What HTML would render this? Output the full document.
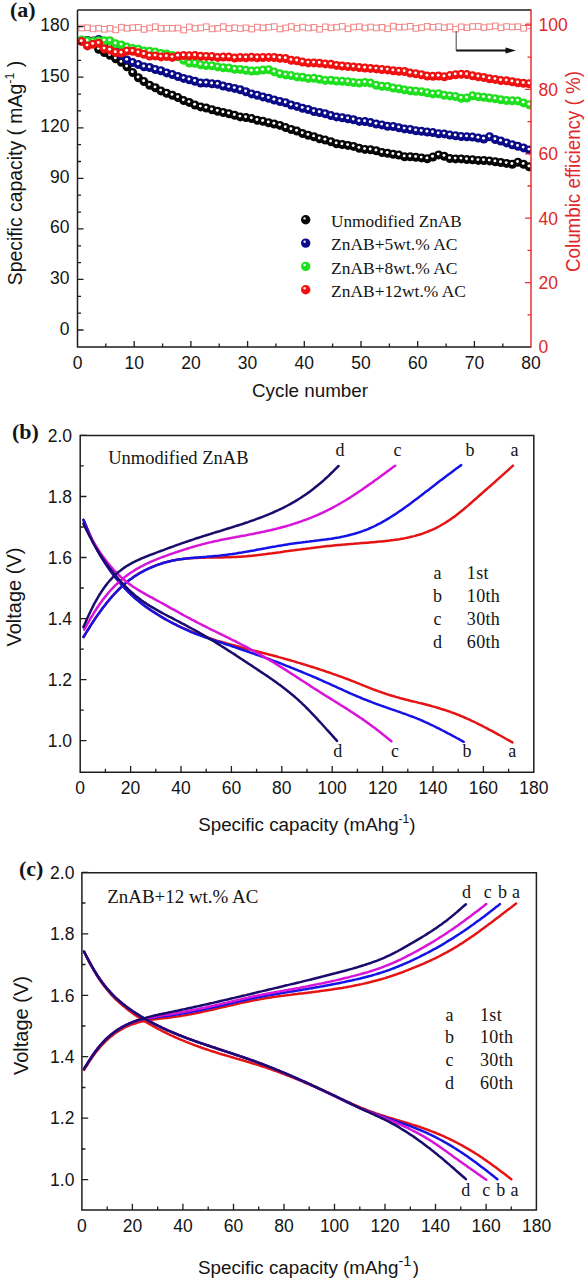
<!DOCTYPE html>
<html><head><meta charset="utf-8"><style>
html,body{margin:0;padding:0;background:#fff;}
svg{display:block;}
</style></head><body>
<svg width="585" height="1280" viewBox="0 0 585 1280">
<defs><clipPath id="clipA"><rect x="77.5" y="10" width="453.5" height="337"/></clipPath></defs>
<rect width="585" height="1280" fill="#fff"/>
<g clip-path="url(#clipA)" fill="none" stroke="#f07a7a" stroke-width="1" opacity="0.9"><rect x="78.9" y="25.2" width="5.6" height="5.6"/><rect x="84.6" y="24.9" width="5.6" height="5.6"/><rect x="90.2" y="26.1" width="5.6" height="5.6"/><rect x="95.9" y="25.4" width="5.6" height="5.6"/><rect x="101.6" y="26.5" width="5.6" height="5.6"/><rect x="107.2" y="25.5" width="5.6" height="5.6"/><rect x="112.9" y="27.1" width="5.6" height="5.6"/><rect x="118.6" y="24.4" width="5.6" height="5.6"/><rect x="124.2" y="25.5" width="5.6" height="5.6"/><rect x="129.9" y="24.9" width="5.6" height="5.6"/><rect x="135.6" y="24.6" width="5.6" height="5.6"/><rect x="141.2" y="26.6" width="5.6" height="5.6"/><rect x="146.9" y="25.2" width="5.6" height="5.6"/><rect x="152.6" y="23.9" width="5.6" height="5.6"/><rect x="158.2" y="25.7" width="5.6" height="5.6"/><rect x="163.9" y="25.4" width="5.6" height="5.6"/><rect x="169.6" y="25.5" width="5.6" height="5.6"/><rect x="175.2" y="25.2" width="5.6" height="5.6"/><rect x="180.9" y="27.3" width="5.6" height="5.6"/><rect x="186.5" y="24.1" width="5.6" height="5.6"/><rect x="192.2" y="25.6" width="5.6" height="5.6"/><rect x="197.9" y="25.1" width="5.6" height="5.6"/><rect x="203.5" y="23.9" width="5.6" height="5.6"/><rect x="209.2" y="26.1" width="5.6" height="5.6"/><rect x="214.9" y="25.5" width="5.6" height="5.6"/><rect x="220.5" y="23.8" width="5.6" height="5.6"/><rect x="226.2" y="25.7" width="5.6" height="5.6"/><rect x="231.9" y="25.0" width="5.6" height="5.6"/><rect x="237.5" y="25.7" width="5.6" height="5.6"/><rect x="243.2" y="25.0" width="5.6" height="5.6"/><rect x="248.9" y="26.3" width="5.6" height="5.6"/><rect x="254.5" y="24.3" width="5.6" height="5.6"/><rect x="260.2" y="25.1" width="5.6" height="5.6"/><rect x="265.9" y="24.4" width="5.6" height="5.6"/><rect x="271.5" y="23.8" width="5.6" height="5.6"/><rect x="277.2" y="26.2" width="5.6" height="5.6"/><rect x="282.9" y="25.1" width="5.6" height="5.6"/><rect x="288.5" y="23.7" width="5.6" height="5.6"/><rect x="294.2" y="25.5" width="5.6" height="5.6"/><rect x="299.8" y="24.3" width="5.6" height="5.6"/><rect x="305.5" y="25.2" width="5.6" height="5.6"/><rect x="311.2" y="24.6" width="5.6" height="5.6"/><rect x="316.8" y="26.5" width="5.6" height="5.6"/><rect x="322.5" y="24.0" width="5.6" height="5.6"/><rect x="328.2" y="25.0" width="5.6" height="5.6"/><rect x="333.8" y="24.4" width="5.6" height="5.6"/><rect x="339.5" y="23.6" width="5.6" height="5.6"/><rect x="345.2" y="26.0" width="5.6" height="5.6"/><rect x="350.8" y="24.3" width="5.6" height="5.6"/><rect x="356.5" y="23.9" width="5.6" height="5.6"/><rect x="362.2" y="25.2" width="5.6" height="5.6"/><rect x="367.8" y="24.2" width="5.6" height="5.6"/><rect x="373.5" y="25.2" width="5.6" height="5.6"/><rect x="379.2" y="24.5" width="5.6" height="5.6"/><rect x="384.8" y="26.0" width="5.6" height="5.6"/><rect x="390.5" y="23.3" width="5.6" height="5.6"/><rect x="396.2" y="24.4" width="5.6" height="5.6"/><rect x="401.8" y="24.2" width="5.6" height="5.6"/><rect x="407.5" y="23.5" width="5.6" height="5.6"/><rect x="413.1" y="25.6" width="5.6" height="5.6"/><rect x="418.8" y="24.8" width="5.6" height="5.6"/><rect x="424.5" y="23.6" width="5.6" height="5.6"/><rect x="430.1" y="24.5" width="5.6" height="5.6"/><rect x="435.8" y="23.8" width="5.6" height="5.6"/><rect x="441.5" y="24.9" width="5.6" height="5.6"/><rect x="447.1" y="24.0" width="5.6" height="5.6"/><rect x="452.8" y="26.3" width="5.6" height="5.6"/><rect x="458.5" y="24.0" width="5.6" height="5.6"/><rect x="464.1" y="24.9" width="5.6" height="5.6"/><rect x="469.8" y="23.7" width="5.6" height="5.6"/><rect x="475.5" y="23.6" width="5.6" height="5.6"/><rect x="481.1" y="24.8" width="5.6" height="5.6"/><rect x="486.8" y="24.0" width="5.6" height="5.6"/><rect x="492.5" y="23.1" width="5.6" height="5.6"/><rect x="498.1" y="25.0" width="5.6" height="5.6"/><rect x="503.8" y="23.7" width="5.6" height="5.6"/><rect x="509.5" y="24.2" width="5.6" height="5.6"/><rect x="515.1" y="23.9" width="5.6" height="5.6"/><rect x="520.8" y="25.5" width="5.6" height="5.6"/><rect x="526.5" y="23.2" width="5.6" height="5.6"/></g>
<g clip-path="url(#clipA)"><g fill="#050505"><circle cx="81.7" cy="40.5" r="4.5"/><circle cx="87.4" cy="40.4" r="4.5"/><circle cx="93.0" cy="41.1" r="4.5"/><circle cx="98.7" cy="49.2" r="4.5"/><circle cx="104.4" cy="52.6" r="4.5"/><circle cx="110.0" cy="55.3" r="4.5"/><circle cx="115.7" cy="58.7" r="4.5"/><circle cx="121.4" cy="62.2" r="4.5"/><circle cx="127.0" cy="66.8" r="4.5"/><circle cx="132.7" cy="72.6" r="4.5"/><circle cx="138.4" cy="77.8" r="4.5"/><circle cx="144.0" cy="81.6" r="4.5"/><circle cx="149.7" cy="85.2" r="4.5"/><circle cx="155.4" cy="87.7" r="4.5"/><circle cx="161.0" cy="90.9" r="4.5"/><circle cx="166.7" cy="93.3" r="4.5"/><circle cx="172.4" cy="95.2" r="4.5"/><circle cx="178.0" cy="97.6" r="4.5"/><circle cx="183.7" cy="100.6" r="4.5"/><circle cx="189.3" cy="102.4" r="4.5"/><circle cx="195.0" cy="105.0" r="4.5"/><circle cx="200.7" cy="106.9" r="4.5"/><circle cx="206.3" cy="108.0" r="4.5"/><circle cx="212.0" cy="109.8" r="4.5"/><circle cx="217.7" cy="111.2" r="4.5"/><circle cx="223.3" cy="112.5" r="4.5"/><circle cx="229.0" cy="113.8" r="4.5"/><circle cx="234.7" cy="115.3" r="4.5"/><circle cx="240.3" cy="116.9" r="4.5"/><circle cx="246.0" cy="117.6" r="4.5"/><circle cx="251.7" cy="118.6" r="4.5"/><circle cx="257.3" cy="120.3" r="4.5"/><circle cx="263.0" cy="121.3" r="4.5"/><circle cx="268.7" cy="122.7" r="4.5"/><circle cx="274.3" cy="124.0" r="4.5"/><circle cx="280.0" cy="125.4" r="4.5"/><circle cx="285.7" cy="127.6" r="4.5"/><circle cx="291.3" cy="129.5" r="4.5"/><circle cx="297.0" cy="131.1" r="4.5"/><circle cx="302.6" cy="133.5" r="4.5"/><circle cx="308.3" cy="135.2" r="4.5"/><circle cx="314.0" cy="136.7" r="4.5"/><circle cx="319.6" cy="138.8" r="4.5"/><circle cx="325.3" cy="140.1" r="4.5"/><circle cx="331.0" cy="141.8" r="4.5"/><circle cx="336.6" cy="143.7" r="4.5"/><circle cx="342.3" cy="144.5" r="4.5"/><circle cx="348.0" cy="145.4" r="4.5"/><circle cx="353.6" cy="146.4" r="4.5"/><circle cx="359.3" cy="148.2" r="4.5"/><circle cx="365.0" cy="149.4" r="4.5"/><circle cx="370.6" cy="149.8" r="4.5"/><circle cx="376.3" cy="150.8" r="4.5"/><circle cx="382.0" cy="152.5" r="4.5"/><circle cx="387.6" cy="153.3" r="4.5"/><circle cx="393.3" cy="154.2" r="4.5"/><circle cx="399.0" cy="155.1" r="4.5"/><circle cx="404.6" cy="156.7" r="4.5"/><circle cx="410.3" cy="156.8" r="4.5"/><circle cx="415.9" cy="157.2" r="4.5"/><circle cx="421.6" cy="157.9" r="4.5"/><circle cx="427.3" cy="158.7" r="4.5"/><circle cx="432.9" cy="157.0" r="4.5"/><circle cx="438.6" cy="154.9" r="4.5"/><circle cx="444.3" cy="156.2" r="4.5"/><circle cx="449.9" cy="158.5" r="4.5"/><circle cx="455.6" cy="158.9" r="4.5"/><circle cx="461.3" cy="158.9" r="4.5"/><circle cx="466.9" cy="159.5" r="4.5"/><circle cx="472.6" cy="159.8" r="4.5"/><circle cx="478.3" cy="160.4" r="4.5"/><circle cx="483.9" cy="160.5" r="4.5"/><circle cx="489.6" cy="160.9" r="4.5"/><circle cx="495.3" cy="161.7" r="4.5"/><circle cx="500.9" cy="162.5" r="4.5"/><circle cx="506.6" cy="163.4" r="4.5"/><circle cx="512.3" cy="164.3" r="4.5"/><circle cx="517.9" cy="162.3" r="4.5"/><circle cx="523.6" cy="164.2" r="4.5"/><circle cx="529.2" cy="166.8" r="4.5"/></g><g fill="#fff"><circle cx="81.3" cy="39.7" r="1.45"/><circle cx="87.0" cy="39.6" r="1.45"/><circle cx="92.6" cy="40.3" r="1.45"/><circle cx="98.3" cy="48.4" r="1.45"/><circle cx="104.0" cy="51.8" r="1.45"/><circle cx="109.6" cy="54.5" r="1.45"/><circle cx="115.3" cy="57.9" r="1.45"/><circle cx="121.0" cy="61.4" r="1.45"/><circle cx="126.6" cy="66.0" r="1.45"/><circle cx="132.3" cy="71.8" r="1.45"/><circle cx="138.0" cy="77.0" r="1.45"/><circle cx="143.6" cy="80.8" r="1.45"/><circle cx="149.3" cy="84.4" r="1.45"/><circle cx="155.0" cy="86.9" r="1.45"/><circle cx="160.6" cy="90.1" r="1.45"/><circle cx="166.3" cy="92.5" r="1.45"/><circle cx="172.0" cy="94.4" r="1.45"/><circle cx="177.6" cy="96.8" r="1.45"/><circle cx="183.3" cy="99.8" r="1.45"/><circle cx="188.9" cy="101.6" r="1.45"/><circle cx="194.6" cy="104.2" r="1.45"/><circle cx="200.3" cy="106.1" r="1.45"/><circle cx="205.9" cy="107.2" r="1.45"/><circle cx="211.6" cy="109.0" r="1.45"/><circle cx="217.3" cy="110.4" r="1.45"/><circle cx="222.9" cy="111.7" r="1.45"/><circle cx="228.6" cy="113.0" r="1.45"/><circle cx="234.3" cy="114.5" r="1.45"/><circle cx="239.9" cy="116.1" r="1.45"/><circle cx="245.6" cy="116.8" r="1.45"/><circle cx="251.3" cy="117.8" r="1.45"/><circle cx="256.9" cy="119.5" r="1.45"/><circle cx="262.6" cy="120.5" r="1.45"/><circle cx="268.3" cy="121.9" r="1.45"/><circle cx="273.9" cy="123.2" r="1.45"/><circle cx="279.6" cy="124.6" r="1.45"/><circle cx="285.3" cy="126.8" r="1.45"/><circle cx="290.9" cy="128.7" r="1.45"/><circle cx="296.6" cy="130.3" r="1.45"/><circle cx="302.2" cy="132.7" r="1.45"/><circle cx="307.9" cy="134.4" r="1.45"/><circle cx="313.6" cy="135.9" r="1.45"/><circle cx="319.2" cy="138.0" r="1.45"/><circle cx="324.9" cy="139.3" r="1.45"/><circle cx="330.6" cy="141.0" r="1.45"/><circle cx="336.2" cy="142.9" r="1.45"/><circle cx="341.9" cy="143.7" r="1.45"/><circle cx="347.6" cy="144.6" r="1.45"/><circle cx="353.2" cy="145.6" r="1.45"/><circle cx="358.9" cy="147.4" r="1.45"/><circle cx="364.6" cy="148.6" r="1.45"/><circle cx="370.2" cy="149.0" r="1.45"/><circle cx="375.9" cy="150.0" r="1.45"/><circle cx="381.6" cy="151.7" r="1.45"/><circle cx="387.2" cy="152.5" r="1.45"/><circle cx="392.9" cy="153.4" r="1.45"/><circle cx="398.6" cy="154.3" r="1.45"/><circle cx="404.2" cy="155.9" r="1.45"/><circle cx="409.9" cy="156.0" r="1.45"/><circle cx="415.6" cy="156.4" r="1.45"/><circle cx="421.2" cy="157.1" r="1.45"/><circle cx="426.9" cy="157.9" r="1.45"/><circle cx="432.5" cy="156.2" r="1.45"/><circle cx="438.2" cy="154.1" r="1.45"/><circle cx="443.9" cy="155.4" r="1.45"/><circle cx="449.5" cy="157.7" r="1.45"/><circle cx="455.2" cy="158.1" r="1.45"/><circle cx="460.9" cy="158.1" r="1.45"/><circle cx="466.5" cy="158.7" r="1.45"/><circle cx="472.2" cy="159.0" r="1.45"/><circle cx="477.9" cy="159.6" r="1.45"/><circle cx="483.5" cy="159.7" r="1.45"/><circle cx="489.2" cy="160.1" r="1.45"/><circle cx="494.9" cy="160.9" r="1.45"/><circle cx="500.5" cy="161.7" r="1.45"/><circle cx="506.2" cy="162.6" r="1.45"/><circle cx="511.9" cy="163.5" r="1.45"/><circle cx="517.5" cy="161.5" r="1.45"/><circle cx="523.2" cy="163.4" r="1.45"/><circle cx="528.9" cy="166.0" r="1.45"/></g></g>
<g clip-path="url(#clipA)"><g fill="#0a0a88"><circle cx="81.7" cy="40.6" r="4.5"/><circle cx="87.4" cy="40.7" r="4.5"/><circle cx="93.0" cy="41.5" r="4.5"/><circle cx="98.7" cy="39.4" r="4.5"/><circle cx="104.4" cy="43.3" r="4.5"/><circle cx="110.0" cy="46.6" r="4.5"/><circle cx="115.7" cy="51.0" r="4.5"/><circle cx="121.4" cy="55.0" r="4.5"/><circle cx="127.0" cy="60.0" r="4.5"/><circle cx="132.7" cy="62.6" r="4.5"/><circle cx="138.4" cy="64.6" r="4.5"/><circle cx="144.0" cy="66.8" r="4.5"/><circle cx="149.7" cy="67.5" r="4.5"/><circle cx="155.4" cy="69.6" r="4.5"/><circle cx="161.0" cy="70.7" r="4.5"/><circle cx="166.7" cy="72.9" r="4.5"/><circle cx="172.4" cy="74.6" r="4.5"/><circle cx="178.0" cy="76.5" r="4.5"/><circle cx="183.7" cy="78.4" r="4.5"/><circle cx="189.3" cy="79.8" r="4.5"/><circle cx="195.0" cy="81.3" r="4.5"/><circle cx="200.7" cy="83.1" r="4.5"/><circle cx="206.3" cy="83.0" r="4.5"/><circle cx="212.0" cy="83.8" r="4.5"/><circle cx="217.7" cy="84.2" r="4.5"/><circle cx="223.3" cy="86.1" r="4.5"/><circle cx="229.0" cy="87.2" r="4.5"/><circle cx="234.7" cy="88.4" r="4.5"/><circle cx="240.3" cy="89.8" r="4.5"/><circle cx="246.0" cy="91.8" r="4.5"/><circle cx="251.7" cy="93.9" r="4.5"/><circle cx="257.3" cy="95.2" r="4.5"/><circle cx="263.0" cy="96.9" r="4.5"/><circle cx="268.7" cy="98.2" r="4.5"/><circle cx="274.3" cy="100.0" r="4.5"/><circle cx="280.0" cy="101.5" r="4.5"/><circle cx="285.7" cy="102.8" r="4.5"/><circle cx="291.3" cy="105.0" r="4.5"/><circle cx="297.0" cy="106.4" r="4.5"/><circle cx="302.6" cy="108.2" r="4.5"/><circle cx="308.3" cy="109.5" r="4.5"/><circle cx="314.0" cy="111.6" r="4.5"/><circle cx="319.6" cy="112.5" r="4.5"/><circle cx="325.3" cy="113.8" r="4.5"/><circle cx="331.0" cy="115.6" r="4.5"/><circle cx="336.6" cy="116.9" r="4.5"/><circle cx="342.3" cy="117.7" r="4.5"/><circle cx="348.0" cy="118.7" r="4.5"/><circle cx="353.6" cy="119.8" r="4.5"/><circle cx="359.3" cy="121.4" r="4.5"/><circle cx="365.0" cy="121.6" r="4.5"/><circle cx="370.6" cy="122.6" r="4.5"/><circle cx="376.3" cy="124.0" r="4.5"/><circle cx="382.0" cy="124.9" r="4.5"/><circle cx="387.6" cy="126.3" r="4.5"/><circle cx="393.3" cy="126.5" r="4.5"/><circle cx="399.0" cy="127.7" r="4.5"/><circle cx="404.6" cy="128.9" r="4.5"/><circle cx="410.3" cy="129.5" r="4.5"/><circle cx="415.9" cy="130.7" r="4.5"/><circle cx="421.6" cy="131.3" r="4.5"/><circle cx="427.3" cy="132.1" r="4.5"/><circle cx="432.9" cy="132.6" r="4.5"/><circle cx="438.6" cy="133.8" r="4.5"/><circle cx="444.3" cy="133.9" r="4.5"/><circle cx="449.9" cy="135.1" r="4.5"/><circle cx="455.6" cy="135.7" r="4.5"/><circle cx="461.3" cy="136.6" r="4.5"/><circle cx="466.9" cy="136.7" r="4.5"/><circle cx="472.6" cy="137.1" r="4.5"/><circle cx="478.3" cy="138.0" r="4.5"/><circle cx="483.9" cy="139.0" r="4.5"/><circle cx="489.6" cy="136.8" r="4.5"/><circle cx="495.3" cy="139.5" r="4.5"/><circle cx="500.9" cy="141.0" r="4.5"/><circle cx="506.6" cy="142.9" r="4.5"/><circle cx="512.3" cy="144.8" r="4.5"/><circle cx="517.9" cy="146.3" r="4.5"/><circle cx="523.6" cy="147.9" r="4.5"/><circle cx="529.2" cy="149.9" r="4.5"/></g><g fill="#fff"><circle cx="81.3" cy="39.8" r="1.45"/><circle cx="87.0" cy="39.9" r="1.45"/><circle cx="92.6" cy="40.7" r="1.45"/><circle cx="98.3" cy="38.6" r="1.45"/><circle cx="104.0" cy="42.5" r="1.45"/><circle cx="109.6" cy="45.8" r="1.45"/><circle cx="115.3" cy="50.2" r="1.45"/><circle cx="121.0" cy="54.2" r="1.45"/><circle cx="126.6" cy="59.2" r="1.45"/><circle cx="132.3" cy="61.8" r="1.45"/><circle cx="138.0" cy="63.8" r="1.45"/><circle cx="143.6" cy="66.0" r="1.45"/><circle cx="149.3" cy="66.7" r="1.45"/><circle cx="155.0" cy="68.8" r="1.45"/><circle cx="160.6" cy="69.9" r="1.45"/><circle cx="166.3" cy="72.1" r="1.45"/><circle cx="172.0" cy="73.8" r="1.45"/><circle cx="177.6" cy="75.7" r="1.45"/><circle cx="183.3" cy="77.6" r="1.45"/><circle cx="188.9" cy="79.0" r="1.45"/><circle cx="194.6" cy="80.5" r="1.45"/><circle cx="200.3" cy="82.3" r="1.45"/><circle cx="205.9" cy="82.2" r="1.45"/><circle cx="211.6" cy="83.0" r="1.45"/><circle cx="217.3" cy="83.4" r="1.45"/><circle cx="222.9" cy="85.3" r="1.45"/><circle cx="228.6" cy="86.4" r="1.45"/><circle cx="234.3" cy="87.6" r="1.45"/><circle cx="239.9" cy="89.0" r="1.45"/><circle cx="245.6" cy="91.0" r="1.45"/><circle cx="251.3" cy="93.1" r="1.45"/><circle cx="256.9" cy="94.4" r="1.45"/><circle cx="262.6" cy="96.1" r="1.45"/><circle cx="268.3" cy="97.4" r="1.45"/><circle cx="273.9" cy="99.2" r="1.45"/><circle cx="279.6" cy="100.7" r="1.45"/><circle cx="285.3" cy="102.0" r="1.45"/><circle cx="290.9" cy="104.2" r="1.45"/><circle cx="296.6" cy="105.6" r="1.45"/><circle cx="302.2" cy="107.4" r="1.45"/><circle cx="307.9" cy="108.7" r="1.45"/><circle cx="313.6" cy="110.8" r="1.45"/><circle cx="319.2" cy="111.7" r="1.45"/><circle cx="324.9" cy="113.0" r="1.45"/><circle cx="330.6" cy="114.8" r="1.45"/><circle cx="336.2" cy="116.1" r="1.45"/><circle cx="341.9" cy="116.9" r="1.45"/><circle cx="347.6" cy="117.9" r="1.45"/><circle cx="353.2" cy="119.0" r="1.45"/><circle cx="358.9" cy="120.6" r="1.45"/><circle cx="364.6" cy="120.8" r="1.45"/><circle cx="370.2" cy="121.8" r="1.45"/><circle cx="375.9" cy="123.2" r="1.45"/><circle cx="381.6" cy="124.1" r="1.45"/><circle cx="387.2" cy="125.5" r="1.45"/><circle cx="392.9" cy="125.7" r="1.45"/><circle cx="398.6" cy="126.9" r="1.45"/><circle cx="404.2" cy="128.1" r="1.45"/><circle cx="409.9" cy="128.7" r="1.45"/><circle cx="415.6" cy="129.9" r="1.45"/><circle cx="421.2" cy="130.5" r="1.45"/><circle cx="426.9" cy="131.3" r="1.45"/><circle cx="432.5" cy="131.8" r="1.45"/><circle cx="438.2" cy="133.0" r="1.45"/><circle cx="443.9" cy="133.1" r="1.45"/><circle cx="449.5" cy="134.3" r="1.45"/><circle cx="455.2" cy="134.9" r="1.45"/><circle cx="460.9" cy="135.8" r="1.45"/><circle cx="466.5" cy="135.9" r="1.45"/><circle cx="472.2" cy="136.3" r="1.45"/><circle cx="477.9" cy="137.2" r="1.45"/><circle cx="483.5" cy="138.2" r="1.45"/><circle cx="489.2" cy="136.0" r="1.45"/><circle cx="494.9" cy="138.7" r="1.45"/><circle cx="500.5" cy="140.2" r="1.45"/><circle cx="506.2" cy="142.1" r="1.45"/><circle cx="511.9" cy="144.0" r="1.45"/><circle cx="517.5" cy="145.5" r="1.45"/><circle cx="523.2" cy="147.1" r="1.45"/><circle cx="528.9" cy="149.1" r="1.45"/></g></g>
<g clip-path="url(#clipA)"><g fill="#1fe01f"><circle cx="81.7" cy="39.9" r="4.5"/><circle cx="87.4" cy="41.1" r="4.5"/><circle cx="93.0" cy="41.5" r="4.5"/><circle cx="98.7" cy="40.7" r="4.5"/><circle cx="104.4" cy="40.7" r="4.5"/><circle cx="110.0" cy="40.7" r="4.5"/><circle cx="115.7" cy="43.7" r="4.5"/><circle cx="121.4" cy="44.9" r="4.5"/><circle cx="127.0" cy="47.1" r="4.5"/><circle cx="132.7" cy="48.6" r="4.5"/><circle cx="138.4" cy="49.3" r="4.5"/><circle cx="144.0" cy="51.0" r="4.5"/><circle cx="149.7" cy="51.3" r="4.5"/><circle cx="155.4" cy="52.1" r="4.5"/><circle cx="161.0" cy="53.5" r="4.5"/><circle cx="166.7" cy="54.1" r="4.5"/><circle cx="172.4" cy="55.6" r="4.5"/><circle cx="178.0" cy="56.7" r="4.5"/><circle cx="183.7" cy="60.3" r="4.5"/><circle cx="189.3" cy="63.1" r="4.5"/><circle cx="195.0" cy="63.3" r="4.5"/><circle cx="200.7" cy="64.8" r="4.5"/><circle cx="206.3" cy="65.6" r="4.5"/><circle cx="212.0" cy="65.8" r="4.5"/><circle cx="217.7" cy="66.9" r="4.5"/><circle cx="223.3" cy="67.7" r="4.5"/><circle cx="229.0" cy="68.1" r="4.5"/><circle cx="234.7" cy="69.3" r="4.5"/><circle cx="240.3" cy="69.4" r="4.5"/><circle cx="246.0" cy="70.2" r="4.5"/><circle cx="251.7" cy="71.0" r="4.5"/><circle cx="257.3" cy="70.7" r="4.5"/><circle cx="263.0" cy="70.1" r="4.5"/><circle cx="268.7" cy="69.8" r="4.5"/><circle cx="274.3" cy="71.9" r="4.5"/><circle cx="280.0" cy="73.8" r="4.5"/><circle cx="285.7" cy="74.9" r="4.5"/><circle cx="291.3" cy="75.6" r="4.5"/><circle cx="297.0" cy="76.9" r="4.5"/><circle cx="302.6" cy="77.2" r="4.5"/><circle cx="308.3" cy="78.4" r="4.5"/><circle cx="314.0" cy="78.3" r="4.5"/><circle cx="319.6" cy="79.3" r="4.5"/><circle cx="325.3" cy="80.4" r="4.5"/><circle cx="331.0" cy="80.3" r="4.5"/><circle cx="336.6" cy="81.1" r="4.5"/><circle cx="342.3" cy="81.2" r="4.5"/><circle cx="348.0" cy="81.8" r="4.5"/><circle cx="353.6" cy="82.6" r="4.5"/><circle cx="359.3" cy="83.0" r="4.5"/><circle cx="365.0" cy="82.4" r="4.5"/><circle cx="370.6" cy="83.1" r="4.5"/><circle cx="376.3" cy="85.2" r="4.5"/><circle cx="382.0" cy="86.2" r="4.5"/><circle cx="387.6" cy="86.5" r="4.5"/><circle cx="393.3" cy="88.1" r="4.5"/><circle cx="399.0" cy="88.7" r="4.5"/><circle cx="404.6" cy="89.9" r="4.5"/><circle cx="410.3" cy="90.7" r="4.5"/><circle cx="415.9" cy="91.2" r="4.5"/><circle cx="421.6" cy="91.7" r="4.5"/><circle cx="427.3" cy="92.8" r="4.5"/><circle cx="432.9" cy="93.9" r="4.5"/><circle cx="438.6" cy="93.8" r="4.5"/><circle cx="444.3" cy="95.3" r="4.5"/><circle cx="449.9" cy="95.9" r="4.5"/><circle cx="455.6" cy="96.6" r="4.5"/><circle cx="461.3" cy="98.2" r="4.5"/><circle cx="466.9" cy="98.0" r="4.5"/><circle cx="472.6" cy="95.7" r="4.5"/><circle cx="478.3" cy="96.7" r="4.5"/><circle cx="483.9" cy="97.2" r="4.5"/><circle cx="489.6" cy="98.0" r="4.5"/><circle cx="495.3" cy="98.8" r="4.5"/><circle cx="500.9" cy="99.8" r="4.5"/><circle cx="506.6" cy="100.6" r="4.5"/><circle cx="512.3" cy="100.7" r="4.5"/><circle cx="517.9" cy="100.9" r="4.5"/><circle cx="523.6" cy="102.9" r="4.5"/><circle cx="529.2" cy="104.8" r="4.5"/></g><g fill="#fff"><circle cx="81.3" cy="39.1" r="1.45"/><circle cx="87.0" cy="40.3" r="1.45"/><circle cx="92.6" cy="40.7" r="1.45"/><circle cx="98.3" cy="39.9" r="1.45"/><circle cx="104.0" cy="39.9" r="1.45"/><circle cx="109.6" cy="39.9" r="1.45"/><circle cx="115.3" cy="42.9" r="1.45"/><circle cx="121.0" cy="44.1" r="1.45"/><circle cx="126.6" cy="46.3" r="1.45"/><circle cx="132.3" cy="47.8" r="1.45"/><circle cx="138.0" cy="48.5" r="1.45"/><circle cx="143.6" cy="50.2" r="1.45"/><circle cx="149.3" cy="50.5" r="1.45"/><circle cx="155.0" cy="51.3" r="1.45"/><circle cx="160.6" cy="52.7" r="1.45"/><circle cx="166.3" cy="53.3" r="1.45"/><circle cx="172.0" cy="54.8" r="1.45"/><circle cx="177.6" cy="55.9" r="1.45"/><circle cx="183.3" cy="59.5" r="1.45"/><circle cx="188.9" cy="62.3" r="1.45"/><circle cx="194.6" cy="62.5" r="1.45"/><circle cx="200.3" cy="64.0" r="1.45"/><circle cx="205.9" cy="64.8" r="1.45"/><circle cx="211.6" cy="65.0" r="1.45"/><circle cx="217.3" cy="66.1" r="1.45"/><circle cx="222.9" cy="66.9" r="1.45"/><circle cx="228.6" cy="67.3" r="1.45"/><circle cx="234.3" cy="68.5" r="1.45"/><circle cx="239.9" cy="68.6" r="1.45"/><circle cx="245.6" cy="69.4" r="1.45"/><circle cx="251.3" cy="70.2" r="1.45"/><circle cx="256.9" cy="69.9" r="1.45"/><circle cx="262.6" cy="69.3" r="1.45"/><circle cx="268.3" cy="69.0" r="1.45"/><circle cx="273.9" cy="71.1" r="1.45"/><circle cx="279.6" cy="73.0" r="1.45"/><circle cx="285.3" cy="74.1" r="1.45"/><circle cx="290.9" cy="74.8" r="1.45"/><circle cx="296.6" cy="76.1" r="1.45"/><circle cx="302.2" cy="76.4" r="1.45"/><circle cx="307.9" cy="77.6" r="1.45"/><circle cx="313.6" cy="77.5" r="1.45"/><circle cx="319.2" cy="78.5" r="1.45"/><circle cx="324.9" cy="79.6" r="1.45"/><circle cx="330.6" cy="79.5" r="1.45"/><circle cx="336.2" cy="80.3" r="1.45"/><circle cx="341.9" cy="80.4" r="1.45"/><circle cx="347.6" cy="81.0" r="1.45"/><circle cx="353.2" cy="81.8" r="1.45"/><circle cx="358.9" cy="82.2" r="1.45"/><circle cx="364.6" cy="81.6" r="1.45"/><circle cx="370.2" cy="82.3" r="1.45"/><circle cx="375.9" cy="84.4" r="1.45"/><circle cx="381.6" cy="85.4" r="1.45"/><circle cx="387.2" cy="85.7" r="1.45"/><circle cx="392.9" cy="87.3" r="1.45"/><circle cx="398.6" cy="87.9" r="1.45"/><circle cx="404.2" cy="89.1" r="1.45"/><circle cx="409.9" cy="89.9" r="1.45"/><circle cx="415.6" cy="90.4" r="1.45"/><circle cx="421.2" cy="90.9" r="1.45"/><circle cx="426.9" cy="92.0" r="1.45"/><circle cx="432.5" cy="93.1" r="1.45"/><circle cx="438.2" cy="93.0" r="1.45"/><circle cx="443.9" cy="94.5" r="1.45"/><circle cx="449.5" cy="95.1" r="1.45"/><circle cx="455.2" cy="95.8" r="1.45"/><circle cx="460.9" cy="97.4" r="1.45"/><circle cx="466.5" cy="97.2" r="1.45"/><circle cx="472.2" cy="94.9" r="1.45"/><circle cx="477.9" cy="95.9" r="1.45"/><circle cx="483.5" cy="96.4" r="1.45"/><circle cx="489.2" cy="97.2" r="1.45"/><circle cx="494.9" cy="98.0" r="1.45"/><circle cx="500.5" cy="99.0" r="1.45"/><circle cx="506.2" cy="99.8" r="1.45"/><circle cx="511.9" cy="99.9" r="1.45"/><circle cx="517.5" cy="100.1" r="1.45"/><circle cx="523.2" cy="102.1" r="1.45"/><circle cx="528.9" cy="104.0" r="1.45"/></g></g>
<g clip-path="url(#clipA)"><g fill="#f01010"><circle cx="81.7" cy="41.6" r="4.5"/><circle cx="87.4" cy="45.9" r="4.5"/><circle cx="93.0" cy="44.2" r="4.5"/><circle cx="98.7" cy="43.3" r="4.5"/><circle cx="104.4" cy="48.9" r="4.5"/><circle cx="110.0" cy="50.1" r="4.5"/><circle cx="115.7" cy="52.5" r="4.5"/><circle cx="121.4" cy="53.1" r="4.5"/><circle cx="127.0" cy="51.1" r="4.5"/><circle cx="132.7" cy="51.3" r="4.5"/><circle cx="138.4" cy="52.7" r="4.5"/><circle cx="144.0" cy="54.3" r="4.5"/><circle cx="149.7" cy="56.1" r="4.5"/><circle cx="155.4" cy="55.9" r="4.5"/><circle cx="161.0" cy="56.9" r="4.5"/><circle cx="166.7" cy="56.5" r="4.5"/><circle cx="172.4" cy="57.4" r="4.5"/><circle cx="178.0" cy="56.0" r="4.5"/><circle cx="183.7" cy="55.6" r="4.5"/><circle cx="189.3" cy="55.8" r="4.5"/><circle cx="195.0" cy="55.6" r="4.5"/><circle cx="200.7" cy="56.3" r="4.5"/><circle cx="206.3" cy="56.4" r="4.5"/><circle cx="212.0" cy="56.6" r="4.5"/><circle cx="217.7" cy="57.4" r="4.5"/><circle cx="223.3" cy="57.0" r="4.5"/><circle cx="229.0" cy="57.1" r="4.5"/><circle cx="234.7" cy="58.0" r="4.5"/><circle cx="240.3" cy="57.6" r="4.5"/><circle cx="246.0" cy="57.7" r="4.5"/><circle cx="251.7" cy="57.2" r="4.5"/><circle cx="257.3" cy="57.8" r="4.5"/><circle cx="263.0" cy="57.5" r="4.5"/><circle cx="268.7" cy="57.4" r="4.5"/><circle cx="274.3" cy="57.5" r="4.5"/><circle cx="280.0" cy="58.2" r="4.5"/><circle cx="285.7" cy="58.6" r="4.5"/><circle cx="291.3" cy="60.2" r="4.5"/><circle cx="297.0" cy="60.8" r="4.5"/><circle cx="302.6" cy="62.1" r="4.5"/><circle cx="308.3" cy="62.9" r="4.5"/><circle cx="314.0" cy="62.9" r="4.5"/><circle cx="319.6" cy="63.3" r="4.5"/><circle cx="325.3" cy="63.9" r="4.5"/><circle cx="331.0" cy="64.2" r="4.5"/><circle cx="336.6" cy="65.4" r="4.5"/><circle cx="342.3" cy="66.0" r="4.5"/><circle cx="348.0" cy="66.6" r="4.5"/><circle cx="353.6" cy="66.9" r="4.5"/><circle cx="359.3" cy="67.6" r="4.5"/><circle cx="365.0" cy="68.0" r="4.5"/><circle cx="370.6" cy="68.4" r="4.5"/><circle cx="376.3" cy="68.9" r="4.5"/><circle cx="382.0" cy="69.6" r="4.5"/><circle cx="387.6" cy="69.9" r="4.5"/><circle cx="393.3" cy="70.7" r="4.5"/><circle cx="399.0" cy="71.2" r="4.5"/><circle cx="404.6" cy="71.5" r="4.5"/><circle cx="410.3" cy="73.1" r="4.5"/><circle cx="415.9" cy="73.8" r="4.5"/><circle cx="421.6" cy="74.8" r="4.5"/><circle cx="427.3" cy="76.1" r="4.5"/><circle cx="432.9" cy="76.2" r="4.5"/><circle cx="438.6" cy="76.0" r="4.5"/><circle cx="444.3" cy="76.7" r="4.5"/><circle cx="449.9" cy="75.6" r="4.5"/><circle cx="455.6" cy="74.7" r="4.5"/><circle cx="461.3" cy="74.3" r="4.5"/><circle cx="466.9" cy="74.6" r="4.5"/><circle cx="472.6" cy="75.8" r="4.5"/><circle cx="478.3" cy="76.8" r="4.5"/><circle cx="483.9" cy="77.5" r="4.5"/><circle cx="489.6" cy="78.7" r="4.5"/><circle cx="495.3" cy="79.4" r="4.5"/><circle cx="500.9" cy="80.6" r="4.5"/><circle cx="506.6" cy="80.8" r="4.5"/><circle cx="512.3" cy="81.8" r="4.5"/><circle cx="517.9" cy="82.8" r="4.5"/><circle cx="523.6" cy="83.3" r="4.5"/><circle cx="529.2" cy="83.7" r="4.5"/></g><g fill="#fff"><circle cx="81.3" cy="40.8" r="1.45"/><circle cx="87.0" cy="45.1" r="1.45"/><circle cx="92.6" cy="43.4" r="1.45"/><circle cx="98.3" cy="42.5" r="1.45"/><circle cx="104.0" cy="48.1" r="1.45"/><circle cx="109.6" cy="49.3" r="1.45"/><circle cx="115.3" cy="51.7" r="1.45"/><circle cx="121.0" cy="52.3" r="1.45"/><circle cx="126.6" cy="50.3" r="1.45"/><circle cx="132.3" cy="50.5" r="1.45"/><circle cx="138.0" cy="51.9" r="1.45"/><circle cx="143.6" cy="53.5" r="1.45"/><circle cx="149.3" cy="55.3" r="1.45"/><circle cx="155.0" cy="55.1" r="1.45"/><circle cx="160.6" cy="56.1" r="1.45"/><circle cx="166.3" cy="55.7" r="1.45"/><circle cx="172.0" cy="56.6" r="1.45"/><circle cx="177.6" cy="55.2" r="1.45"/><circle cx="183.3" cy="54.8" r="1.45"/><circle cx="188.9" cy="55.0" r="1.45"/><circle cx="194.6" cy="54.8" r="1.45"/><circle cx="200.3" cy="55.5" r="1.45"/><circle cx="205.9" cy="55.6" r="1.45"/><circle cx="211.6" cy="55.8" r="1.45"/><circle cx="217.3" cy="56.6" r="1.45"/><circle cx="222.9" cy="56.2" r="1.45"/><circle cx="228.6" cy="56.3" r="1.45"/><circle cx="234.3" cy="57.2" r="1.45"/><circle cx="239.9" cy="56.8" r="1.45"/><circle cx="245.6" cy="56.9" r="1.45"/><circle cx="251.3" cy="56.4" r="1.45"/><circle cx="256.9" cy="57.0" r="1.45"/><circle cx="262.6" cy="56.7" r="1.45"/><circle cx="268.3" cy="56.6" r="1.45"/><circle cx="273.9" cy="56.7" r="1.45"/><circle cx="279.6" cy="57.4" r="1.45"/><circle cx="285.3" cy="57.8" r="1.45"/><circle cx="290.9" cy="59.4" r="1.45"/><circle cx="296.6" cy="60.0" r="1.45"/><circle cx="302.2" cy="61.3" r="1.45"/><circle cx="307.9" cy="62.1" r="1.45"/><circle cx="313.6" cy="62.1" r="1.45"/><circle cx="319.2" cy="62.5" r="1.45"/><circle cx="324.9" cy="63.1" r="1.45"/><circle cx="330.6" cy="63.4" r="1.45"/><circle cx="336.2" cy="64.6" r="1.45"/><circle cx="341.9" cy="65.2" r="1.45"/><circle cx="347.6" cy="65.8" r="1.45"/><circle cx="353.2" cy="66.1" r="1.45"/><circle cx="358.9" cy="66.8" r="1.45"/><circle cx="364.6" cy="67.2" r="1.45"/><circle cx="370.2" cy="67.6" r="1.45"/><circle cx="375.9" cy="68.1" r="1.45"/><circle cx="381.6" cy="68.8" r="1.45"/><circle cx="387.2" cy="69.1" r="1.45"/><circle cx="392.9" cy="69.9" r="1.45"/><circle cx="398.6" cy="70.4" r="1.45"/><circle cx="404.2" cy="70.7" r="1.45"/><circle cx="409.9" cy="72.3" r="1.45"/><circle cx="415.6" cy="73.0" r="1.45"/><circle cx="421.2" cy="74.0" r="1.45"/><circle cx="426.9" cy="75.3" r="1.45"/><circle cx="432.5" cy="75.4" r="1.45"/><circle cx="438.2" cy="75.2" r="1.45"/><circle cx="443.9" cy="75.9" r="1.45"/><circle cx="449.5" cy="74.8" r="1.45"/><circle cx="455.2" cy="73.9" r="1.45"/><circle cx="460.9" cy="73.5" r="1.45"/><circle cx="466.5" cy="73.8" r="1.45"/><circle cx="472.2" cy="75.0" r="1.45"/><circle cx="477.9" cy="76.0" r="1.45"/><circle cx="483.5" cy="76.7" r="1.45"/><circle cx="489.2" cy="77.9" r="1.45"/><circle cx="494.9" cy="78.6" r="1.45"/><circle cx="500.5" cy="79.8" r="1.45"/><circle cx="506.2" cy="80.0" r="1.45"/><circle cx="511.9" cy="81.0" r="1.45"/><circle cx="517.5" cy="82.0" r="1.45"/><circle cx="523.2" cy="82.5" r="1.45"/><circle cx="528.9" cy="82.9" r="1.45"/></g></g>
<path d="M77.5,10.0 H531.0 M77.5,10.0 V347.0 H531.0" fill="none" stroke="#1e1e1e" stroke-width="1.5"/>
<path d="M531.0,9.3 V347.7" stroke="#e83030" stroke-width="1.5"/>
<path d="M77.5,330.0 h6 M77.5,313.1 h3.5 M77.5,296.3 h3.5 M77.5,279.4 h6 M77.5,262.6 h3.5 M77.5,245.8 h3.5 M77.5,228.9 h6 M77.5,212.1 h3.5 M77.5,195.2 h3.5 M77.5,178.3 h6 M77.5,161.5 h3.5 M77.5,144.7 h3.5 M77.5,127.8 h6 M77.5,110.9 h3.5 M77.5,94.1 h3.5 M77.5,77.2 h6 M77.5,60.4 h3.5 M77.5,43.6 h3.5 M77.5,26.7 h6 M105.8,347.0 v-3.5 M134.2,347.0 v-6 M162.6,347.0 v-3.5 M190.9,347.0 v-6 M219.2,347.0 v-3.5 M247.6,347.0 v-6 M275.9,347.0 v-3.5 M304.3,347.0 v-6 M332.6,347.0 v-3.5 M361.0,347.0 v-6 M389.4,347.0 v-3.5 M417.7,347.0 v-6 M446.1,347.0 v-3.5 M474.4,347.0 v-6 M502.8,347.0 v-3.5" stroke="#1e1e1e" stroke-width="1.3"/>
<path d="M531.0,314.8 h-3.5 M531.0,282.6 h-6 M531.0,250.4 h-3.5 M531.0,218.2 h-6 M531.0,186.0 h-3.5 M531.0,153.8 h-6 M531.0,121.6 h-3.5 M531.0,89.4 h-6 M531.0,57.2 h-3.5 M531.0,25.0 h-6" stroke="#e83030" stroke-width="1.3"/>
<g font-family='"Liberation Sans", sans-serif' font-size="17.5" fill="#141414"><text x="69.5" y="334.5" text-anchor="end">0</text><text x="69.5" y="283.9" text-anchor="end">30</text><text x="69.5" y="233.4" text-anchor="end">60</text><text x="69.5" y="182.8" text-anchor="end">90</text><text x="69.5" y="132.3" text-anchor="end">120</text><text x="69.5" y="81.8" text-anchor="end">150</text><text x="69.5" y="31.2" text-anchor="end">180</text><text x="77.5" y="368.5" text-anchor="middle">0</text><text x="134.2" y="368.5" text-anchor="middle">10</text><text x="190.9" y="368.5" text-anchor="middle">20</text><text x="247.6" y="368.5" text-anchor="middle">30</text><text x="304.3" y="368.5" text-anchor="middle">40</text><text x="361.0" y="368.5" text-anchor="middle">50</text><text x="417.7" y="368.5" text-anchor="middle">60</text><text x="474.4" y="368.5" text-anchor="middle">70</text><text x="531.1" y="368.5" text-anchor="middle">80</text></g>
<g font-family='"Liberation Sans", sans-serif' font-size="17.5" fill="#e02828"><text x="538.5" y="353.3">0</text><text x="538.5" y="288.9">20</text><text x="538.5" y="224.5">40</text><text x="538.5" y="160.1">60</text><text x="538.5" y="95.7">80</text><text x="538.5" y="31.3">100</text></g>
<text x="252" y="397" textLength="116" lengthAdjust="spacingAndGlyphs" font-family='"Liberation Sans", sans-serif' font-size="18.2" fill="#141414">Cycle number</text>
<text transform="translate(22,285.3) rotate(-90)" font-family='"Liberation Sans", sans-serif' font-size="19.4" fill="#141414">Specific capacity ( mAg<tspan dy="-8" font-size="12.5">-1</tspan><tspan dy="8"> )</tspan></text>
<text transform="translate(579.5,272) rotate(-90)" textLength="201" lengthAdjust="spacingAndGlyphs" font-family='"Liberation Sans", sans-serif' font-size="19.3" fill="#e02828">Columbic efficiency ( %)</text>
<text x="10" y="16.8" font-family='"Liberation Serif", serif' font-weight="bold" font-size="22" fill="#141414">(a)</text>
<path d="M456.2,31 V50.5" fill="none" stroke="#555" stroke-width="1.1"/>
<path d="M456.2,50.5 H508" stroke="#111" stroke-width="2"/>
<path d="M516,50.5 L505.5,47.6 L505.5,53.4 Z" fill="#111"/>
<circle cx="305.7" cy="219.8" r="4.7" fill="#050505"/><circle cx="304.6" cy="218.4" r="1.2" fill="#fff" opacity="0.9"/>
<text x="331" y="226.9" textLength="130.8" lengthAdjust="spacingAndGlyphs" font-family='"Liberation Serif", serif' font-size="17.6" fill="#141414">Unmodified ZnAB</text>
<circle cx="305.7" cy="243.1" r="4.7" fill="#0a0a88"/><circle cx="304.6" cy="241.7" r="1.2" fill="#fff" opacity="0.9"/>
<text x="331" y="250.2" textLength="126.5" lengthAdjust="spacingAndGlyphs" font-family='"Liberation Serif", serif' font-size="17.6" fill="#141414">ZnAB+5wt.% AC</text>
<circle cx="305.7" cy="266.4" r="4.7" fill="#1fe01f"/><circle cx="304.6" cy="265.0" r="1.2" fill="#fff" opacity="0.9"/>
<text x="331" y="273.5" textLength="126.5" lengthAdjust="spacingAndGlyphs" font-family='"Liberation Serif", serif' font-size="17.6" fill="#141414">ZnAB+8wt.% AC</text>
<circle cx="305.7" cy="289.7" r="4.7" fill="#f01010"/><circle cx="304.6" cy="288.3" r="1.2" fill="#fff" opacity="0.9"/>
<text x="331" y="296.8" textLength="135" lengthAdjust="spacingAndGlyphs" font-family='"Liberation Serif", serif' font-size="17.6" fill="#141414">ZnAB+12wt.% AC</text>
<path d="M83.5,637.0 L84.5,635.3 L85.6,633.6 L86.6,631.9 L87.7,630.2 L88.8,628.5 L89.8,626.8 L90.9,625.1 L92.0,623.4 L93.1,621.8 L94.2,620.1 L95.3,618.4 L96.4,616.8 L97.6,615.1 L98.7,613.5 L99.9,611.9 L101.1,610.3 L102.3,608.6 L103.5,607.0 L104.7,605.5 L105.9,603.9 L107.2,602.3 L108.5,600.8 L109.7,599.2 L111.0,597.7 L112.4,596.2 L113.7,594.7 L115.0,593.3 L116.4,591.8 L117.8,590.4 L119.2,589.0 L120.6,587.6 L122.1,586.2 L123.6,584.9 L125.1,583.6 L126.6,582.3 L128.1,581.1 L129.7,579.8 L131.3,578.7 L132.9,577.5 L134.5,576.4 L136.2,575.3 L137.9,574.2 L139.6,573.2 L141.3,572.2 L143.0,571.3 L144.8,570.4 L146.6,569.5 L148.4,568.6 L150.2,567.8 L152.0,567.0 L153.8,566.3 L155.6,565.5 L157.5,564.8 L159.4,564.2 L161.2,563.6 L163.1,563.0 L165.0,562.4 L166.9,561.9 L168.9,561.4 L170.8,561.0 L172.7,560.5 L174.7,560.2 L176.6,559.8 L178.6,559.5 L180.6,559.2 L182.5,559.0 L184.5,558.8 L186.5,558.6 L188.5,558.4 L190.5,558.3 L192.5,558.1 L194.5,558.0 L196.5,557.9 L198.5,557.8 L200.5,557.8 L202.5,557.7 L204.5,557.7 L206.5,557.6 L208.5,557.6 L210.5,557.6 L212.5,557.5 L214.5,557.5 L216.5,557.5 L218.5,557.5 L220.5,557.4 L222.5,557.4 L224.5,557.3 L226.5,557.3 L228.5,557.2 L230.5,557.2 L232.5,557.1 L234.5,557.0 L236.5,556.9 L238.5,556.8 L240.5,556.7 L242.5,556.5 L244.5,556.4 L246.5,556.3 L248.5,556.1 L250.5,555.9 L252.4,555.7 L254.4,555.5 L256.4,555.3 L258.4,555.1 L260.4,554.8 L262.4,554.6 L264.3,554.3 L266.3,554.1 L268.3,553.8 L270.3,553.5 L272.3,553.3 L274.2,553.0 L276.2,552.7 L278.2,552.4 L280.2,552.2 L282.1,551.9 L284.1,551.6 L286.1,551.3 L288.1,551.1 L290.1,550.8 L292.0,550.5 L294.0,550.3 L296.0,550.0 L298.0,549.7 L300.0,549.5 L301.9,549.2 L303.9,548.9 L305.9,548.7 L307.9,548.4 L309.9,548.2 L311.8,547.9 L313.8,547.7 L315.8,547.4 L317.8,547.2 L319.8,547.0 L321.8,546.7 L323.8,546.5 L325.7,546.3 L327.7,546.1 L329.7,545.9 L331.7,545.7 L333.7,545.5 L335.7,545.3 L337.7,545.1 L339.7,544.9 L341.7,544.7 L343.6,544.6 L345.6,544.4 L347.6,544.2 L349.6,544.1 L351.6,543.9 L353.6,543.8 L355.6,543.6 L357.6,543.4 L359.6,543.3 L361.6,543.1 L363.6,543.0 L365.6,542.8 L367.6,542.7 L369.6,542.5 L371.6,542.3 L373.6,542.2 L375.6,542.0 L377.6,541.8 L379.6,541.6 L381.6,541.4 L383.6,541.2 L385.6,541.0 L387.6,540.8 L389.5,540.6 L391.5,540.3 L393.5,540.1 L395.5,539.8 L397.5,539.5 L399.5,539.2 L401.4,538.8 L403.4,538.5 L405.3,538.1 L407.3,537.7 L409.2,537.3 L411.2,536.8 L413.1,536.4 L415.0,535.9 L416.9,535.3 L418.9,534.8 L420.7,534.2 L422.6,533.6 L424.5,532.9 L426.3,532.2 L428.2,531.5 L430.0,530.7 L431.8,530.0 L433.6,529.1 L435.4,528.3 L437.1,527.4 L438.9,526.5 L440.6,525.5 L442.3,524.5 L444.1,523.5 L445.7,522.5 L447.4,521.4 L449.1,520.3 L450.7,519.2 L452.3,518.0 L454.0,516.9 L455.6,515.7 L457.1,514.5 L458.7,513.3 L460.3,512.0 L461.8,510.8 L463.4,509.5 L464.9,508.2 L466.4,506.9 L468.0,505.6 L469.5,504.3 L471.0,503.0 L472.5,501.6 L474.0,500.3 L475.5,499.0 L477.0,497.7 L478.5,496.3 L480.0,495.0 L481.5,493.7 L483.0,492.4 L484.5,491.0 L486.0,489.7 L487.5,488.4 L489.0,487.1 L490.6,485.7 L492.1,484.4 L493.6,483.1 L495.1,481.8 L496.5,480.4 L498.0,479.1 L499.5,477.8 L501.0,476.4 L502.5,475.1 L504.0,473.8 L505.5,472.4 L507.0,471.1 L508.5,469.8 L509.9,468.4 L511.4,467.1 L512.9,465.7" fill="none" stroke="#e41414" stroke-width="2.5" stroke-linejoin="round" stroke-linecap="round"/>
<path d="M83.4,519.8 L84.2,521.6 L85.0,523.5 L85.8,525.3 L86.5,527.1 L87.3,529.0 L88.1,530.8 L88.9,532.7 L89.7,534.5 L90.5,536.3 L91.4,538.1 L92.2,539.9 L93.1,541.7 L94.0,543.5 L94.9,545.3 L95.8,547.1 L96.7,548.9 L97.6,550.6 L98.6,552.4 L99.6,554.1 L100.6,555.8 L101.6,557.5 L102.7,559.2 L103.7,560.9 L104.8,562.6 L105.9,564.3 L107.0,566.0 L108.1,567.6 L109.3,569.2 L110.4,570.9 L111.6,572.5 L112.8,574.1 L114.0,575.7 L115.3,577.2 L116.5,578.8 L117.8,580.3 L119.1,581.9 L120.4,583.4 L121.7,584.9 L123.0,586.4 L124.4,587.8 L125.7,589.3 L127.1,590.7 L128.5,592.1 L130.0,593.5 L131.4,594.9 L132.9,596.2 L134.3,597.5 L135.8,598.8 L137.3,600.1 L138.9,601.4 L140.4,602.6 L142.0,603.9 L143.6,605.0 L145.2,606.2 L146.8,607.4 L148.4,608.5 L150.1,609.6 L151.7,610.8 L153.4,611.9 L155.1,612.9 L156.8,614.0 L158.5,615.0 L160.2,616.1 L161.9,617.1 L163.6,618.1 L165.3,619.1 L167.1,620.1 L168.8,621.0 L170.6,622.0 L172.4,622.9 L174.1,623.8 L175.9,624.7 L177.7,625.6 L179.5,626.4 L181.3,627.3 L183.2,628.1 L185.0,628.9 L186.8,629.7 L188.6,630.5 L190.5,631.3 L192.3,632.0 L194.2,632.8 L196.1,633.5 L197.9,634.2 L199.8,634.9 L201.7,635.6 L203.6,636.2 L205.5,636.9 L207.3,637.5 L209.2,638.2 L211.1,638.8 L213.1,639.4 L215.0,640.0 L216.9,640.6 L218.8,641.1 L220.7,641.7 L222.6,642.3 L224.6,642.8 L226.5,643.4 L228.4,643.9 L230.3,644.4 L232.3,645.0 L234.2,645.5 L236.1,646.0 L238.1,646.5 L240.0,647.0 L241.9,647.6 L243.9,648.1 L245.8,648.6 L247.7,649.1 L249.7,649.6 L251.6,650.1 L253.5,650.6 L255.5,651.0 L257.4,651.5 L259.4,652.0 L261.3,652.5 L263.2,653.0 L265.2,653.5 L267.1,654.0 L269.0,654.5 L271.0,655.0 L272.9,655.5 L274.8,656.0 L276.8,656.5 L278.7,657.1 L280.6,657.6 L282.6,658.1 L284.5,658.7 L286.4,659.2 L288.3,659.8 L290.2,660.3 L292.2,660.9 L294.1,661.4 L296.0,662.0 L297.9,662.6 L299.8,663.1 L301.7,663.7 L303.7,664.3 L305.6,664.9 L307.5,665.5 L309.4,666.1 L311.3,666.7 L313.2,667.3 L315.1,667.9 L317.0,668.5 L318.9,669.1 L320.8,669.8 L322.7,670.4 L324.6,671.0 L326.5,671.7 L328.4,672.3 L330.3,672.9 L332.1,673.6 L334.0,674.3 L335.9,674.9 L337.8,675.6 L339.7,676.3 L341.5,676.9 L343.4,677.6 L345.3,678.3 L347.2,679.0 L349.0,679.7 L350.9,680.5 L352.7,681.2 L354.6,681.9 L356.4,682.7 L358.3,683.4 L360.1,684.2 L362.0,684.9 L363.8,685.7 L365.7,686.4 L367.5,687.1 L369.4,687.9 L371.3,688.6 L373.1,689.3 L375.0,690.0 L376.9,690.7 L378.7,691.4 L380.6,692.0 L382.5,692.7 L384.4,693.3 L386.3,694.0 L388.2,694.6 L390.1,695.2 L392.0,695.8 L393.9,696.3 L395.8,696.9 L397.7,697.4 L399.6,698.0 L401.6,698.5 L403.5,699.0 L405.4,699.5 L407.4,700.0 L409.3,700.5 L411.2,701.0 L413.2,701.4 L415.1,701.9 L417.1,702.4 L419.0,702.9 L420.9,703.3 L422.9,703.8 L424.8,704.3 L426.8,704.8 L428.7,705.3 L430.6,705.8 L432.5,706.4 L434.5,706.9 L436.4,707.4 L438.3,708.0 L440.2,708.6 L442.1,709.2 L444.0,709.8 L445.9,710.4 L447.8,711.0 L449.7,711.7 L451.6,712.4 L453.4,713.0 L455.3,713.7 L457.2,714.5 L459.0,715.2 L460.9,716.0 L462.7,716.7 L464.5,717.5 L466.4,718.3 L468.2,719.1 L470.0,719.9 L471.8,720.8 L473.6,721.6 L475.4,722.5 L477.2,723.4 L479.0,724.3 L480.8,725.2 L482.6,726.1 L484.3,727.0 L486.1,727.9 L487.9,728.8 L489.6,729.8 L491.4,730.7 L493.2,731.7 L494.9,732.6 L496.7,733.6 L498.4,734.6 L500.2,735.5 L501.9,736.5 L503.7,737.5 L505.4,738.5 L507.2,739.5 L508.9,740.4 L510.6,741.4 L512.4,742.4" fill="none" stroke="#e41414" stroke-width="2.5" stroke-linejoin="round" stroke-linecap="round"/>
<path d="M83.5,637.0 L84.5,635.3 L85.6,633.6 L86.6,631.9 L87.7,630.2 L88.8,628.5 L89.8,626.8 L90.9,625.1 L92.0,623.4 L93.1,621.8 L94.2,620.1 L95.3,618.4 L96.4,616.8 L97.6,615.1 L98.7,613.5 L99.9,611.9 L101.1,610.2 L102.3,608.6 L103.5,607.0 L104.7,605.5 L105.9,603.9 L107.2,602.3 L108.5,600.8 L109.7,599.2 L111.0,597.7 L112.4,596.2 L113.7,594.7 L115.0,593.2 L116.4,591.8 L117.8,590.4 L119.2,589.0 L120.6,587.6 L122.1,586.2 L123.6,584.9 L125.1,583.6 L126.6,582.3 L128.1,581.1 L129.7,579.8 L131.3,578.7 L132.9,577.5 L134.5,576.4 L136.2,575.3 L137.9,574.3 L139.6,573.2 L141.3,572.3 L143.0,571.3 L144.8,570.4 L146.6,569.5 L148.4,568.7 L150.2,567.9 L152.0,567.1 L153.8,566.3 L155.7,565.6 L157.5,564.9 L159.4,564.3 L161.3,563.6 L163.2,563.0 L165.1,562.5 L167.0,562.0 L168.9,561.5 L170.8,561.0 L172.8,560.6 L174.7,560.2 L176.6,559.8 L178.6,559.5 L180.6,559.2 L182.5,558.9 L184.5,558.7 L186.5,558.5 L188.5,558.3 L190.5,558.1 L192.5,557.9 L194.5,557.7 L196.5,557.5 L198.5,557.4 L200.5,557.2 L202.5,557.1 L204.4,556.9 L206.4,556.8 L208.4,556.6 L210.4,556.5 L212.4,556.3 L214.4,556.1 L216.4,555.9 L218.4,555.8 L220.4,555.6 L222.4,555.3 L224.4,555.1 L226.4,554.9 L228.3,554.6 L230.3,554.3 L232.3,554.1 L234.3,553.8 L236.2,553.5 L238.2,553.1 L240.2,552.8 L242.1,552.5 L244.1,552.1 L246.1,551.8 L248.0,551.4 L250.0,551.1 L252.0,550.7 L253.9,550.4 L255.9,550.0 L257.9,549.6 L259.8,549.3 L261.8,548.9 L263.8,548.5 L265.7,548.2 L267.7,547.8 L269.7,547.4 L271.6,547.1 L273.6,546.7 L275.6,546.4 L277.5,546.0 L279.5,545.7 L281.5,545.4 L283.4,545.1 L285.4,544.7 L287.4,544.4 L289.4,544.1 L291.3,543.8 L293.3,543.6 L295.3,543.3 L297.3,543.0 L299.3,542.7 L301.3,542.5 L303.2,542.2 L305.2,542.0 L307.2,541.7 L309.2,541.5 L311.2,541.2 L313.2,541.0 L315.2,540.7 L317.2,540.5 L319.1,540.3 L321.1,540.0 L323.1,539.7 L325.1,539.5 L327.1,539.2 L329.1,538.9 L331.0,538.7 L333.0,538.4 L335.0,538.1 L337.0,537.7 L338.9,537.4 L340.9,537.0 L342.8,536.6 L344.8,536.2 L346.7,535.8 L348.7,535.3 L350.6,534.8 L352.5,534.3 L354.4,533.8 L356.3,533.2 L358.2,532.6 L360.1,532.0 L362.0,531.4 L363.8,530.7 L365.7,530.0 L367.5,529.3 L369.3,528.5 L371.2,527.7 L373.0,526.9 L374.8,526.0 L376.5,525.1 L378.3,524.2 L380.1,523.3 L381.8,522.4 L383.5,521.4 L385.3,520.4 L387.0,519.4 L388.7,518.4 L390.4,517.3 L392.1,516.2 L393.8,515.2 L395.4,514.1 L397.1,513.0 L398.8,511.8 L400.4,510.7 L402.1,509.6 L403.7,508.4 L405.3,507.3 L407.0,506.1 L408.6,504.9 L410.2,503.7 L411.8,502.5 L413.4,501.3 L415.0,500.1 L416.6,498.9 L418.2,497.7 L419.8,496.5 L421.4,495.3 L423.0,494.0 L424.6,492.8 L426.1,491.6 L427.7,490.4 L429.3,489.2 L430.9,487.9 L432.5,486.7 L434.1,485.5 L435.7,484.3 L437.2,483.0 L438.8,481.8 L440.4,480.6 L442.0,479.4 L443.6,478.2 L445.2,477.0 L446.8,475.8 L448.4,474.6 L450.0,473.4 L451.6,472.2 L453.2,471.0 L454.8,469.8 L456.4,468.6 L458.0,467.4 L459.6,466.2 L461.2,465.1" fill="none" stroke="#1414e6" stroke-width="2.5" stroke-linejoin="round" stroke-linecap="round"/>
<path d="M83.4,519.8 L84.2,521.6 L85.0,523.5 L85.8,525.3 L86.5,527.1 L87.3,529.0 L88.1,530.8 L88.9,532.7 L89.7,534.5 L90.5,536.3 L91.4,538.1 L92.2,539.9 L93.1,541.7 L93.9,543.5 L94.8,545.3 L95.8,547.1 L96.7,548.8 L97.6,550.6 L98.6,552.3 L99.6,554.1 L100.6,555.8 L101.6,557.5 L102.6,559.2 L103.7,560.9 L104.8,562.6 L105.9,564.3 L107.0,565.9 L108.1,567.6 L109.2,569.2 L110.4,570.8 L111.6,572.4 L112.8,574.0 L114.0,575.6 L115.2,577.2 L116.5,578.7 L117.7,580.3 L119.0,581.8 L120.3,583.3 L121.6,584.8 L123.0,586.3 L124.3,587.8 L125.7,589.2 L127.1,590.6 L128.5,592.0 L129.9,593.4 L131.3,594.8 L132.8,596.1 L134.3,597.5 L135.8,598.8 L137.3,600.1 L138.8,601.3 L140.4,602.6 L141.9,603.8 L143.5,605.0 L145.1,606.2 L146.7,607.3 L148.4,608.5 L150.0,609.6 L151.6,610.7 L153.3,611.8 L155.0,612.9 L156.7,613.9 L158.4,615.0 L160.1,616.0 L161.8,617.1 L163.5,618.1 L165.2,619.1 L166.9,620.0 L168.7,621.0 L170.4,622.0 L172.2,622.9 L174.0,623.8 L175.8,624.7 L177.5,625.6 L179.3,626.5 L181.1,627.4 L182.9,628.2 L184.7,629.1 L186.6,629.9 L188.4,630.7 L190.2,631.5 L192.0,632.3 L193.9,633.0 L195.7,633.8 L197.6,634.5 L199.4,635.2 L201.3,635.9 L203.2,636.6 L205.1,637.3 L206.9,637.9 L208.8,638.6 L210.7,639.2 L212.6,639.8 L214.5,640.5 L216.4,641.1 L218.3,641.7 L220.2,642.3 L222.1,642.9 L224.0,643.6 L225.9,644.2 L227.8,644.8 L229.7,645.4 L231.6,646.1 L233.5,646.7 L235.4,647.4 L237.2,648.0 L239.1,648.7 L241.0,649.3 L242.9,650.0 L244.8,650.6 L246.7,651.3 L248.6,651.9 L250.4,652.6 L252.3,653.2 L254.2,653.9 L256.1,654.6 L258.0,655.2 L259.9,655.9 L261.8,656.5 L263.6,657.2 L265.5,657.9 L267.4,658.5 L269.3,659.2 L271.1,659.9 L273.0,660.6 L274.9,661.3 L276.8,662.0 L278.6,662.7 L280.5,663.4 L282.4,664.1 L284.2,664.8 L286.1,665.6 L287.9,666.3 L289.8,667.0 L291.6,667.8 L293.5,668.5 L295.3,669.3 L297.2,670.0 L299.0,670.8 L300.9,671.5 L302.7,672.3 L304.6,673.1 L306.4,673.8 L308.3,674.6 L310.1,675.4 L311.9,676.2 L313.8,677.0 L315.6,677.7 L317.4,678.5 L319.3,679.3 L321.1,680.1 L322.9,681.0 L324.7,681.8 L326.6,682.6 L328.4,683.4 L330.2,684.2 L332.0,685.1 L333.8,685.9 L335.6,686.7 L337.5,687.6 L339.3,688.4 L341.1,689.2 L342.9,690.0 L344.7,690.9 L346.5,691.7 L348.4,692.5 L350.2,693.3 L352.0,694.1 L353.8,694.9 L355.7,695.7 L357.5,696.5 L359.4,697.2 L361.2,698.0 L363.0,698.8 L364.9,699.5 L366.7,700.2 L368.6,701.0 L370.5,701.7 L372.3,702.4 L374.2,703.1 L376.1,703.8 L378.0,704.5 L379.8,705.1 L381.7,705.8 L383.6,706.5 L385.5,707.1 L387.4,707.8 L389.2,708.5 L391.1,709.1 L393.0,709.8 L394.9,710.4 L396.8,711.1 L398.7,711.7 L400.6,712.4 L402.4,713.1 L404.3,713.7 L406.2,714.4 L408.1,715.1 L409.9,715.8 L411.8,716.5 L413.7,717.2 L415.5,717.9 L417.4,718.7 L419.2,719.4 L421.0,720.2 L422.9,721.0 L424.7,721.8 L426.5,722.6 L428.3,723.4 L430.1,724.3 L431.9,725.1 L433.7,726.0 L435.5,726.9 L437.3,727.8 L439.1,728.7 L440.9,729.6 L442.6,730.5 L444.4,731.4 L446.2,732.3 L447.9,733.3 L449.7,734.2 L451.5,735.1 L453.2,736.1 L455.0,737.0 L456.7,738.0 L458.5,738.9 L460.2,739.9 L462.0,740.9 L463.7,741.8" fill="none" stroke="#1414e6" stroke-width="2.5" stroke-linejoin="round" stroke-linecap="round"/>
<path d="M84.2,629.7 L85.2,628.0 L86.2,626.2 L87.1,624.5 L88.1,622.7 L89.1,621.0 L90.1,619.2 L91.1,617.5 L92.2,615.8 L93.2,614.1 L94.2,612.4 L95.3,610.7 L96.4,609.0 L97.5,607.3 L98.6,605.7 L99.7,604.0 L100.9,602.4 L102.1,600.8 L103.2,599.2 L104.5,597.6 L105.7,596.1 L107.0,594.5 L108.2,593.0 L109.5,591.5 L110.9,590.0 L112.2,588.6 L113.6,587.1 L115.0,585.7 L116.4,584.4 L117.9,583.0 L119.3,581.7 L120.8,580.4 L122.4,579.1 L123.9,577.8 L125.5,576.6 L127.0,575.4 L128.6,574.3 L130.3,573.1 L131.9,572.0 L133.6,571.0 L135.2,569.9 L136.9,568.9 L138.7,567.9 L140.4,566.9 L142.2,566.0 L143.9,565.1 L145.7,564.2 L147.5,563.4 L149.3,562.5 L151.1,561.7 L153.0,560.9 L154.8,560.1 L156.6,559.4 L158.5,558.6 L160.3,557.9 L162.2,557.2 L164.1,556.5 L166.0,555.8 L167.8,555.1 L169.7,554.4 L171.6,553.8 L173.5,553.1 L175.4,552.5 L177.3,551.8 L179.2,551.2 L181.1,550.6 L183.0,550.0 L184.9,549.4 L186.8,548.8 L188.7,548.2 L190.6,547.6 L192.5,547.0 L194.4,546.5 L196.4,545.9 L198.3,545.4 L200.2,544.9 L202.1,544.4 L204.1,543.9 L206.0,543.4 L207.9,542.9 L209.9,542.4 L211.8,542.0 L213.8,541.5 L215.7,541.1 L217.7,540.7 L219.6,540.3 L221.6,539.8 L223.5,539.4 L225.5,539.1 L227.4,538.7 L229.4,538.3 L231.4,537.9 L233.3,537.5 L235.3,537.2 L237.2,536.8 L239.2,536.5 L241.2,536.1 L243.1,535.7 L245.1,535.4 L247.1,535.0 L249.0,534.6 L251.0,534.3 L253.0,533.9 L254.9,533.5 L256.9,533.1 L258.8,532.7 L260.8,532.3 L262.7,531.9 L264.7,531.5 L266.6,531.0 L268.6,530.6 L270.5,530.2 L272.5,529.7 L274.4,529.2 L276.4,528.8 L278.3,528.3 L280.2,527.8 L282.1,527.2 L284.1,526.7 L286.0,526.2 L287.9,525.6 L289.8,525.1 L291.7,524.5 L293.6,523.9 L295.5,523.3 L297.4,522.7 L299.3,522.0 L301.2,521.4 L303.1,520.7 L305.0,520.0 L306.8,519.3 L308.7,518.6 L310.5,517.9 L312.4,517.1 L314.2,516.4 L316.1,515.6 L317.9,514.8 L319.7,514.0 L321.5,513.2 L323.3,512.3 L325.1,511.5 L326.9,510.6 L328.7,509.7 L330.5,508.8 L332.2,507.9 L334.0,506.9 L335.7,506.0 L337.5,505.0 L339.2,504.0 L340.9,503.0 L342.7,502.0 L344.4,501.0 L346.1,500.0 L347.8,498.9 L349.5,497.9 L351.2,496.8 L352.8,495.7 L354.5,494.6 L356.2,493.5 L357.8,492.4 L359.5,491.3 L361.1,490.2 L362.8,489.1 L364.4,487.9 L366.1,486.8 L367.7,485.6 L369.3,484.5 L371.0,483.3 L372.6,482.2 L374.2,481.0 L375.8,479.8 L377.5,478.7 L379.1,477.5 L380.7,476.3 L382.3,475.1 L383.9,474.0 L385.5,472.8 L387.1,471.6 L388.7,470.4 L390.3,469.2 L391.9,468.0 L393.6,466.8 L395.2,465.7" fill="none" stroke="#d814d8" stroke-width="2.5" stroke-linejoin="round" stroke-linecap="round"/>
<path d="M84.2,524.9 L85.1,526.7 L86.1,528.5 L87.0,530.3 L87.9,532.0 L88.9,533.8 L89.8,535.5 L90.8,537.3 L91.8,539.0 L92.8,540.8 L93.8,542.5 L94.8,544.2 L95.9,545.9 L96.9,547.6 L98.0,549.3 L99.1,551.0 L100.2,552.6 L101.3,554.3 L102.5,555.9 L103.7,557.5 L104.8,559.1 L106.1,560.7 L107.3,562.3 L108.5,563.8 L109.8,565.4 L111.1,566.9 L112.4,568.4 L113.7,569.9 L115.1,571.3 L116.5,572.7 L117.9,574.1 L119.3,575.5 L120.7,576.9 L122.2,578.2 L123.7,579.5 L125.2,580.8 L126.8,582.0 L128.3,583.2 L129.9,584.4 L131.5,585.5 L133.1,586.7 L134.8,587.8 L136.4,588.8 L138.1,589.9 L139.8,590.9 L141.5,591.9 L143.3,592.9 L145.0,593.9 L146.7,594.9 L148.5,595.8 L150.2,596.8 L152.0,597.7 L153.7,598.7 L155.5,599.6 L157.2,600.6 L159.0,601.5 L160.7,602.5 L162.5,603.4 L164.2,604.4 L166.0,605.4 L167.7,606.3 L169.5,607.3 L171.2,608.3 L173.0,609.3 L174.7,610.2 L176.5,611.2 L178.2,612.2 L179.9,613.1 L181.7,614.1 L183.4,615.1 L185.2,616.0 L187.0,617.0 L188.7,617.9 L190.5,618.9 L192.2,619.8 L194.0,620.7 L195.8,621.7 L197.5,622.6 L199.3,623.5 L201.1,624.4 L202.9,625.3 L204.7,626.2 L206.5,627.1 L208.2,628.0 L210.0,628.9 L211.8,629.8 L213.6,630.6 L215.4,631.5 L217.2,632.4 L219.0,633.3 L220.8,634.2 L222.6,635.0 L224.4,635.9 L226.2,636.8 L228.0,637.7 L229.8,638.6 L231.5,639.5 L233.3,640.4 L235.1,641.2 L236.9,642.2 L238.7,643.1 L240.5,644.0 L242.2,644.9 L244.0,645.8 L245.8,646.7 L247.5,647.7 L249.3,648.6 L251.1,649.6 L252.8,650.5 L254.6,651.5 L256.3,652.4 L258.0,653.4 L259.8,654.4 L261.5,655.4 L263.3,656.4 L265.0,657.4 L266.7,658.4 L268.4,659.4 L270.2,660.4 L271.9,661.4 L273.6,662.5 L275.3,663.5 L277.0,664.6 L278.7,665.6 L280.4,666.7 L282.1,667.7 L283.8,668.8 L285.5,669.8 L287.1,670.9 L288.8,672.0 L290.5,673.1 L292.2,674.1 L293.9,675.2 L295.5,676.3 L297.2,677.4 L298.9,678.5 L300.6,679.6 L302.3,680.7 L303.9,681.7 L305.6,682.8 L307.3,683.9 L309.0,685.0 L310.6,686.1 L312.3,687.2 L314.0,688.3 L315.7,689.3 L317.4,690.4 L319.1,691.5 L320.7,692.6 L322.4,693.6 L324.1,694.7 L325.8,695.8 L327.5,696.8 L329.2,697.9 L330.9,698.9 L332.6,700.0 L334.3,701.0 L336.0,702.1 L337.7,703.1 L339.4,704.2 L341.1,705.3 L342.8,706.3 L344.5,707.4 L346.2,708.4 L347.8,709.5 L349.5,710.6 L351.2,711.7 L352.9,712.8 L354.5,713.9 L356.2,715.0 L357.9,716.1 L359.5,717.2 L361.2,718.3 L362.8,719.4 L364.5,720.6 L366.1,721.7 L367.7,722.9 L369.3,724.0 L370.9,725.2 L372.5,726.4 L374.1,727.6 L375.7,728.8 L377.3,730.0 L378.9,731.3 L380.5,732.5 L382.0,733.7 L383.6,735.0 L385.2,736.2 L386.7,737.4 L388.3,738.7 L389.8,739.9 L391.4,741.2" fill="none" stroke="#d814d8" stroke-width="2.5" stroke-linejoin="round" stroke-linecap="round"/>
<path d="M83.4,627.0 L84.3,625.1 L85.1,623.3 L85.9,621.4 L86.7,619.6 L87.5,617.8 L88.4,615.9 L89.2,614.1 L90.1,612.3 L90.9,610.5 L91.8,608.7 L92.7,606.9 L93.6,605.1 L94.5,603.3 L95.5,601.6 L96.5,599.8 L97.5,598.1 L98.5,596.4 L99.5,594.7 L100.6,593.0 L101.7,591.3 L102.8,589.7 L103.9,588.0 L105.1,586.4 L106.3,584.9 L107.5,583.3 L108.8,581.8 L110.0,580.3 L111.4,578.8 L112.7,577.4 L114.1,576.0 L115.5,574.7 L117.0,573.4 L118.4,572.1 L120.0,570.9 L121.5,569.7 L123.1,568.5 L124.7,567.4 L126.4,566.3 L128.0,565.3 L129.7,564.3 L131.4,563.4 L133.2,562.4 L135.0,561.5 L136.7,560.7 L138.5,559.8 L140.4,559.0 L142.2,558.2 L144.0,557.5 L145.9,556.7 L147.7,556.0 L149.6,555.2 L151.5,554.5 L153.3,553.8 L155.2,553.1 L157.1,552.4 L159.0,551.7 L160.8,551.0 L162.7,550.3 L164.6,549.6 L166.5,548.9 L168.3,548.2 L170.2,547.5 L172.1,546.8 L174.0,546.1 L175.9,545.4 L177.7,544.8 L179.6,544.1 L181.5,543.4 L183.4,542.8 L185.3,542.1 L187.2,541.5 L189.1,540.8 L191.0,540.2 L192.9,539.6 L194.7,538.9 L196.6,538.3 L198.5,537.7 L200.4,537.1 L202.3,536.5 L204.2,535.9 L206.2,535.3 L208.1,534.7 L210.0,534.1 L211.9,533.5 L213.8,532.9 L215.7,532.3 L217.6,531.7 L219.5,531.2 L221.4,530.6 L223.3,530.0 L225.2,529.4 L227.1,528.8 L229.0,528.2 L231.0,527.6 L232.9,527.0 L234.8,526.4 L236.7,525.8 L238.6,525.2 L240.5,524.6 L242.4,524.0 L244.3,523.3 L246.2,522.7 L248.1,522.1 L249.9,521.4 L251.8,520.7 L253.7,520.1 L255.6,519.4 L257.5,518.7 L259.4,518.0 L261.2,517.3 L263.1,516.6 L264.9,515.9 L266.8,515.1 L268.6,514.4 L270.5,513.6 L272.3,512.8 L274.1,512.0 L276.0,511.2 L277.8,510.4 L279.6,509.5 L281.4,508.7 L283.2,507.8 L284.9,506.9 L286.7,506.0 L288.5,505.0 L290.2,504.1 L291.9,503.1 L293.7,502.1 L295.4,501.1 L297.1,500.1 L298.8,499.0 L300.5,498.0 L302.1,496.9 L303.8,495.8 L305.4,494.7 L307.1,493.5 L308.7,492.4 L310.3,491.2 L311.9,490.0 L313.5,488.8 L315.0,487.6 L316.6,486.3 L318.1,485.1 L319.7,483.8 L321.2,482.5 L322.7,481.2 L324.2,479.9 L325.6,478.5 L327.1,477.2 L328.6,475.8 L330.0,474.4 L331.4,473.0 L332.9,471.6 L334.3,470.2 L335.7,468.8 L337.1,467.4 L338.5,466.0" fill="none" stroke="#1a0c6c" stroke-width="2.5" stroke-linejoin="round" stroke-linecap="round"/>
<path d="M83.4,523.7 L84.3,525.5 L85.2,527.3 L86.1,529.1 L87.0,530.9 L87.9,532.7 L88.7,534.5 L89.7,536.3 L90.6,538.0 L91.5,539.8 L92.4,541.6 L93.4,543.3 L94.4,545.1 L95.4,546.8 L96.4,548.5 L97.4,550.2 L98.5,551.9 L99.5,553.6 L100.6,555.3 L101.7,557.0 L102.8,558.6 L103.9,560.3 L105.1,561.9 L106.2,563.6 L107.4,565.2 L108.6,566.8 L109.8,568.4 L111.1,569.9 L112.3,571.5 L113.5,573.1 L114.8,574.6 L116.1,576.2 L117.4,577.7 L118.7,579.2 L120.0,580.7 L121.3,582.2 L122.7,583.6 L124.1,585.1 L125.4,586.5 L126.9,587.9 L128.3,589.3 L129.7,590.7 L131.2,592.0 L132.7,593.3 L134.2,594.6 L135.7,595.9 L137.3,597.1 L138.8,598.3 L140.4,599.5 L142.0,600.7 L143.6,601.8 L145.3,602.9 L146.9,604.0 L148.6,605.1 L150.3,606.2 L152.0,607.2 L153.7,608.2 L155.4,609.2 L157.2,610.2 L158.9,611.2 L160.7,612.1 L162.4,613.1 L164.2,614.0 L166.0,615.0 L167.7,615.9 L169.5,616.8 L171.3,617.7 L173.1,618.7 L174.8,619.6 L176.6,620.5 L178.4,621.4 L180.2,622.4 L181.9,623.3 L183.7,624.2 L185.5,625.2 L187.3,626.1 L189.0,627.1 L190.8,628.0 L192.5,629.0 L194.3,629.9 L196.0,630.9 L197.8,631.9 L199.5,632.9 L201.3,633.9 L203.0,634.8 L204.7,635.9 L206.5,636.9 L208.2,637.9 L209.9,638.9 L211.6,639.9 L213.3,641.0 L215.0,642.0 L216.7,643.1 L218.4,644.1 L220.1,645.2 L221.8,646.3 L223.5,647.3 L225.2,648.4 L226.9,649.5 L228.5,650.6 L230.2,651.6 L231.9,652.7 L233.6,653.8 L235.3,654.9 L236.9,656.0 L238.6,657.1 L240.3,658.2 L241.9,659.3 L243.6,660.4 L245.3,661.5 L247.0,662.6 L248.6,663.7 L250.3,664.8 L252.0,665.9 L253.6,667.0 L255.3,668.1 L257.0,669.3 L258.7,670.4 L260.3,671.5 L262.0,672.6 L263.7,673.7 L265.3,674.8 L267.0,675.9 L268.6,677.0 L270.3,678.2 L271.9,679.3 L273.6,680.5 L275.2,681.6 L276.8,682.8 L278.4,684.0 L280.0,685.1 L281.6,686.3 L283.2,687.5 L284.8,688.7 L286.4,690.0 L287.9,691.2 L289.5,692.5 L291.0,693.7 L292.6,695.0 L294.1,696.3 L295.6,697.6 L297.1,698.9 L298.6,700.2 L300.0,701.6 L301.5,702.9 L302.9,704.3 L304.4,705.7 L305.8,707.1 L307.2,708.5 L308.6,709.9 L310.0,711.4 L311.4,712.8 L312.8,714.3 L314.1,715.7 L315.5,717.2 L316.9,718.6 L318.2,720.1 L319.6,721.6 L320.9,723.0 L322.3,724.5 L323.6,726.0 L325.0,727.5 L326.3,729.0 L327.6,730.5 L329.0,731.9 L330.3,733.4 L331.7,734.9 L333.0,736.4 L334.3,737.9 L335.7,739.4 L337.0,740.9" fill="none" stroke="#1a0c6c" stroke-width="2.5" stroke-linejoin="round" stroke-linecap="round"/>
<path d="M80.2,435.5 H533.8 V772.3 H80.2 Z" fill="none" stroke="#1e1e1e" stroke-width="1.5"/>
<path d="M80.2,740.7 h6.3 M80.2,710.2 h3.6 M80.2,679.6 h6.3 M80.2,649.1 h3.6 M80.2,618.6 h6.3 M80.2,588.0 h3.6 M80.2,557.5 h6.3 M80.2,527.0 h3.6 M80.2,496.5 h6.3 M80.2,465.9 h3.6 M80.2,435.4 h6.3 M105.4,772.3 v-3.6 M130.6,772.3 v-6.3 M155.8,772.3 v-3.6 M181.0,772.3 v-6.3 M206.2,772.3 v-3.6 M231.4,772.3 v-6.3 M256.6,772.3 v-3.6 M281.8,772.3 v-6.3 M307.0,772.3 v-3.6 M332.2,772.3 v-6.3 M357.4,772.3 v-3.6 M382.6,772.3 v-6.3 M407.8,772.3 v-3.6 M433.0,772.3 v-6.3 M458.2,772.3 v-3.6 M483.4,772.3 v-6.3 M508.6,772.3 v-3.6" stroke="#1e1e1e" stroke-width="1.3"/>
<g font-family='"Liberation Sans", sans-serif' font-size="17.5" fill="#141414"><text x="72" y="746.9" text-anchor="end">1.0</text><text x="72" y="685.8" text-anchor="end">1.2</text><text x="72" y="624.8" text-anchor="end">1.4</text><text x="72" y="563.7" text-anchor="end">1.6</text><text x="72" y="502.7" text-anchor="end">1.8</text><text x="72" y="441.6" text-anchor="end">2.0</text><text x="80.2" y="794.3" text-anchor="middle">0</text><text x="130.6" y="794.3" text-anchor="middle">20</text><text x="181.0" y="794.3" text-anchor="middle">40</text><text x="231.4" y="794.3" text-anchor="middle">60</text><text x="281.8" y="794.3" text-anchor="middle">80</text><text x="332.2" y="794.3" text-anchor="middle">100</text><text x="382.6" y="794.3" text-anchor="middle">120</text><text x="433.0" y="794.3" text-anchor="middle">140</text><text x="483.4" y="794.3" text-anchor="middle">160</text><text x="533.8" y="794.3" text-anchor="middle">180</text></g>
<text x="108.2" y="464.3" textLength="140.3" lengthAdjust="spacingAndGlyphs" font-family='"Liberation Serif", serif' font-size="18.5" fill="#141414">Unmodified ZnAB</text>
<g font-family='"Liberation Serif", serif' font-size="18" fill="#141414"><text x="340" y="456" text-anchor="middle">d</text><text x="397.5" y="456" text-anchor="middle">c</text><text x="470" y="456" text-anchor="middle">b</text><text x="514.4" y="456" text-anchor="middle">a</text><text x="337.8" y="757" text-anchor="middle">d</text><text x="395" y="757" text-anchor="middle">c</text><text x="467" y="757" text-anchor="middle">b</text><text x="512.3" y="757" text-anchor="middle">a</text><text x="437.5" y="578.8" text-anchor="middle">a</text><text x="466.8" y="578.8" letter-spacing="0.35">1st</text><text x="437.5" y="601.8" text-anchor="middle">b</text><text x="466.8" y="601.8" letter-spacing="0.35">10th</text><text x="437.5" y="624.8" text-anchor="middle">c</text><text x="466.8" y="624.8" letter-spacing="0.35">30th</text><text x="437.5" y="647.8" text-anchor="middle">d</text><text x="466.8" y="647.8" letter-spacing="0.35">60th</text></g>
<text x="198.2" y="830.5" font-family='"Liberation Sans", sans-serif' font-size="18.8" fill="#141414">Specific capacity (mAhg<tspan dy="-7.5" font-size="12">-1</tspan><tspan dy="7.5" dx="0">)</tspan></text>
<text transform="translate(20.5,646.5) rotate(-90)" font-family='"Liberation Sans", sans-serif' font-size="20" fill="#141414">Voltage (V)</text>
<text x="12" y="438.7" font-family='"Liberation Serif", serif' font-weight="bold" font-size="22" fill="#141414">(b)</text>
<path d="M84.1,1069.9 L85.1,1068.1 L86.2,1066.4 L87.3,1064.7 L88.4,1063.0 L89.5,1061.3 L90.6,1059.7 L91.8,1058.0 L92.9,1056.3 L94.1,1054.7 L95.3,1053.1 L96.5,1051.5 L97.8,1049.9 L99.0,1048.4 L100.3,1046.9 L101.6,1045.4 L103.0,1043.9 L104.4,1042.5 L105.8,1041.1 L107.2,1039.8 L108.7,1038.4 L110.2,1037.1 L111.7,1035.9 L113.2,1034.7 L114.8,1033.5 L116.4,1032.4 L118.0,1031.3 L119.7,1030.3 L121.4,1029.3 L123.1,1028.4 L124.8,1027.5 L126.6,1026.6 L128.4,1025.9 L130.2,1025.1 L132.0,1024.4 L133.8,1023.8 L135.7,1023.2 L137.6,1022.6 L139.5,1022.1 L141.4,1021.6 L143.3,1021.2 L145.2,1020.8 L147.2,1020.4 L149.1,1020.1 L151.1,1019.8 L153.1,1019.5 L155.0,1019.3 L157.0,1019.0 L159.0,1018.8 L161.0,1018.5 L163.0,1018.3 L165.0,1018.1 L167.0,1017.9 L168.9,1017.6 L170.9,1017.4 L172.9,1017.1 L174.9,1016.8 L176.9,1016.6 L178.9,1016.3 L180.8,1015.9 L182.8,1015.6 L184.8,1015.3 L186.8,1014.9 L188.7,1014.6 L190.7,1014.2 L192.7,1013.8 L194.6,1013.5 L196.6,1013.1 L198.5,1012.7 L200.5,1012.2 L202.5,1011.8 L204.4,1011.4 L206.4,1011.0 L208.3,1010.6 L210.3,1010.1 L212.2,1009.7 L214.2,1009.2 L216.1,1008.8 L218.1,1008.3 L220.0,1007.9 L222.0,1007.4 L223.9,1007.0 L225.9,1006.5 L227.8,1006.1 L229.8,1005.6 L231.7,1005.2 L233.7,1004.7 L235.6,1004.3 L237.6,1003.8 L239.5,1003.4 L241.5,1002.9 L243.4,1002.5 L245.4,1002.1 L247.3,1001.7 L249.3,1001.3 L251.2,1000.9 L253.2,1000.5 L255.1,1000.1 L257.1,999.7 L259.1,999.4 L261.0,999.0 L263.0,998.7 L265.0,998.3 L266.9,998.0 L268.9,997.7 L270.9,997.4 L272.9,997.1 L274.8,996.8 L276.8,996.6 L278.8,996.3 L280.8,996.0 L282.7,995.8 L284.7,995.5 L286.7,995.3 L288.7,995.0 L290.7,994.8 L292.7,994.5 L294.6,994.3 L296.6,994.1 L298.6,993.8 L300.6,993.6 L302.6,993.4 L304.6,993.1 L306.6,992.9 L308.5,992.6 L310.5,992.4 L312.5,992.1 L314.5,991.9 L316.5,991.6 L318.5,991.4 L320.4,991.1 L322.4,990.8 L324.4,990.6 L326.4,990.3 L328.4,990.0 L330.4,989.7 L332.3,989.4 L334.3,989.1 L336.3,988.8 L338.3,988.5 L340.2,988.2 L342.2,987.9 L344.2,987.5 L346.1,987.2 L348.1,986.8 L350.1,986.5 L352.0,986.1 L354.0,985.7 L356.0,985.3 L357.9,984.9 L359.9,984.5 L361.8,984.1 L363.8,983.6 L365.7,983.2 L367.7,982.7 L369.6,982.3 L371.6,981.8 L373.5,981.3 L375.4,980.8 L377.4,980.3 L379.3,979.7 L381.2,979.2 L383.1,978.6 L385.0,978.1 L386.9,977.5 L388.8,976.9 L390.7,976.3 L392.6,975.6 L394.5,975.0 L396.4,974.3 L398.3,973.7 L400.2,973.0 L402.0,972.3 L403.9,971.6 L405.8,970.9 L407.7,970.2 L409.5,969.4 L411.4,968.7 L413.2,967.9 L415.1,967.2 L416.9,966.4 L418.8,965.7 L420.6,964.9 L422.5,964.1 L424.3,963.3 L426.1,962.5 L427.9,961.7 L429.8,960.8 L431.6,960.0 L433.4,959.1 L435.2,958.3 L437.0,957.4 L438.8,956.5 L440.5,955.6 L442.3,954.7 L444.1,953.7 L445.8,952.8 L447.6,951.8 L449.3,950.9 L451.1,949.9 L452.8,948.9 L454.5,947.9 L456.2,946.8 L457.9,945.8 L459.6,944.7 L461.3,943.7 L463.0,942.6 L464.6,941.5 L466.3,940.4 L468.0,939.3 L469.6,938.1 L471.3,937.0 L472.9,935.9 L474.5,934.7 L476.2,933.6 L477.8,932.4 L479.4,931.2 L481.0,930.0 L482.6,928.9 L484.2,927.7 L485.8,926.5 L487.5,925.3 L489.1,924.1 L490.7,922.9 L492.3,921.7 L493.9,920.5 L495.5,919.3 L497.0,918.1 L498.6,916.9 L500.2,915.7 L501.8,914.4 L503.4,913.2 L505.0,912.0 L506.6,910.8 L508.2,909.6 L509.8,908.4 L511.4,907.2 L512.9,905.9 L514.5,904.7 L516.1,903.5" fill="none" stroke="#e41414" stroke-width="2.5" stroke-linejoin="round" stroke-linecap="round"/>
<path d="M84.1,951.7 L85.0,953.5 L85.9,955.3 L86.8,957.1 L87.7,958.9 L88.6,960.7 L89.5,962.5 L90.5,964.2 L91.4,966.0 L92.4,967.7 L93.4,969.5 L94.4,971.2 L95.4,972.9 L96.4,974.6 L97.5,976.3 L98.5,978.0 L99.6,979.7 L100.8,981.3 L101.9,983.0 L103.1,984.6 L104.3,986.1 L105.5,987.7 L106.7,989.3 L108.0,990.8 L109.2,992.3 L110.5,993.8 L111.9,995.3 L113.2,996.7 L114.6,998.1 L116.0,999.5 L117.5,1000.9 L118.9,1002.2 L120.4,1003.6 L121.9,1004.9 L123.4,1006.1 L125.0,1007.4 L126.5,1008.6 L128.1,1009.9 L129.7,1011.1 L131.3,1012.3 L132.9,1013.4 L134.5,1014.6 L136.2,1015.7 L137.8,1016.8 L139.5,1017.9 L141.2,1019.0 L142.9,1020.1 L144.6,1021.1 L146.3,1022.2 L148.0,1023.2 L149.7,1024.2 L151.5,1025.2 L153.2,1026.2 L155.0,1027.2 L156.7,1028.1 L158.5,1029.1 L160.3,1030.0 L162.0,1030.9 L163.8,1031.8 L165.6,1032.7 L167.4,1033.6 L169.2,1034.5 L171.0,1035.3 L172.8,1036.1 L174.7,1037.0 L176.5,1037.8 L178.3,1038.6 L180.1,1039.4 L182.0,1040.2 L183.8,1040.9 L185.7,1041.7 L187.5,1042.4 L189.4,1043.2 L191.3,1043.9 L193.1,1044.6 L195.0,1045.3 L196.9,1046.0 L198.7,1046.7 L200.6,1047.3 L202.5,1048.0 L204.4,1048.7 L206.3,1049.3 L208.2,1049.9 L210.1,1050.6 L212.0,1051.2 L213.9,1051.8 L215.8,1052.4 L217.7,1053.0 L219.6,1053.6 L221.5,1054.2 L223.4,1054.7 L225.4,1055.3 L227.3,1055.9 L229.2,1056.4 L231.1,1057.0 L233.0,1057.5 L234.9,1058.1 L236.9,1058.7 L238.8,1059.2 L240.7,1059.8 L242.6,1060.3 L244.5,1060.9 L246.5,1061.5 L248.4,1062.0 L250.3,1062.6 L252.2,1063.2 L254.1,1063.8 L256.0,1064.3 L257.9,1064.9 L259.8,1065.6 L261.7,1066.2 L263.6,1066.8 L265.5,1067.4 L267.4,1068.1 L269.3,1068.7 L271.2,1069.4 L273.0,1070.1 L274.9,1070.7 L276.8,1071.4 L278.7,1072.1 L280.5,1072.8 L282.4,1073.5 L284.3,1074.2 L286.1,1075.0 L288.0,1075.7 L289.9,1076.4 L291.7,1077.2 L293.6,1077.9 L295.4,1078.7 L297.3,1079.4 L299.1,1080.2 L301.0,1080.9 L302.8,1081.7 L304.6,1082.5 L306.5,1083.3 L308.3,1084.0 L310.2,1084.8 L312.0,1085.6 L313.8,1086.4 L315.7,1087.2 L317.5,1088.0 L319.3,1088.8 L321.1,1089.6 L323.0,1090.4 L324.8,1091.3 L326.6,1092.1 L328.4,1092.9 L330.2,1093.7 L332.1,1094.6 L333.9,1095.4 L335.7,1096.2 L337.5,1097.1 L339.3,1097.9 L341.1,1098.8 L342.9,1099.6 L344.7,1100.4 L346.5,1101.3 L348.3,1102.1 L350.2,1103.0 L352.0,1103.8 L353.8,1104.6 L355.6,1105.4 L357.4,1106.2 L359.2,1107.0 L361.1,1107.8 L362.9,1108.5 L364.8,1109.2 L366.6,1110.0 L368.5,1110.7 L370.4,1111.4 L372.2,1112.0 L374.1,1112.7 L376.0,1113.4 L377.9,1114.0 L379.8,1114.6 L381.7,1115.3 L383.6,1115.9 L385.5,1116.5 L387.4,1117.1 L389.3,1117.7 L391.2,1118.2 L393.1,1118.8 L395.0,1119.4 L396.9,1120.0 L398.8,1120.5 L400.8,1121.1 L402.7,1121.7 L404.6,1122.3 L406.5,1122.8 L408.4,1123.4 L410.3,1124.0 L412.2,1124.6 L414.1,1125.2 L416.1,1125.8 L418.0,1126.4 L419.9,1127.0 L421.7,1127.7 L423.6,1128.3 L425.5,1129.0 L427.4,1129.7 L429.3,1130.3 L431.1,1131.1 L433.0,1131.8 L434.8,1132.5 L436.7,1133.3 L438.5,1134.0 L440.4,1134.8 L442.2,1135.6 L444.0,1136.4 L445.8,1137.3 L447.7,1138.1 L449.5,1139.0 L451.3,1139.8 L453.0,1140.7 L454.8,1141.6 L456.6,1142.5 L458.4,1143.5 L460.1,1144.4 L461.9,1145.3 L463.6,1146.3 L465.4,1147.3 L467.1,1148.3 L468.8,1149.3 L470.5,1150.3 L472.2,1151.4 L473.9,1152.4 L475.6,1153.5 L477.3,1154.5 L479.0,1155.6 L480.6,1156.7 L482.3,1157.8 L483.9,1159.0 L485.6,1160.1 L487.2,1161.2 L488.9,1162.4 L490.5,1163.6 L492.1,1164.7 L493.7,1165.9 L495.3,1167.1 L496.9,1168.3 L498.5,1169.5 L500.1,1170.7 L501.7,1171.9 L503.3,1173.1 L504.9,1174.3 L506.5,1175.5 L508.1,1176.7 L509.7,1178.0 L511.3,1179.2" fill="none" stroke="#e41414" stroke-width="2.5" stroke-linejoin="round" stroke-linecap="round"/>
<path d="M84.1,1068.9 L85.1,1067.2 L86.2,1065.5 L87.2,1063.8 L88.3,1062.0 L89.4,1060.3 L90.5,1058.6 L91.6,1056.9 L92.7,1055.3 L93.8,1053.6 L95.0,1052.0 L96.2,1050.4 L97.4,1048.8 L98.6,1047.2 L99.9,1045.7 L101.2,1044.2 L102.5,1042.7 L103.9,1041.3 L105.3,1039.9 L106.7,1038.5 L108.1,1037.2 L109.6,1035.9 L111.1,1034.6 L112.6,1033.4 L114.2,1032.2 L115.8,1031.0 L117.4,1029.9 L119.0,1028.9 L120.7,1027.9 L122.4,1026.9 L124.1,1026.0 L125.9,1025.1 L127.6,1024.3 L129.4,1023.5 L131.2,1022.8 L133.1,1022.2 L134.9,1021.5 L136.8,1020.9 L138.7,1020.4 L140.6,1019.9 L142.5,1019.4 L144.4,1019.0 L146.3,1018.6 L148.3,1018.3 L150.2,1018.0 L152.2,1017.7 L154.2,1017.4 L156.2,1017.1 L158.1,1016.9 L160.1,1016.6 L162.1,1016.4 L164.1,1016.2 L166.1,1015.9 L168.1,1015.7 L170.1,1015.4 L172.0,1015.2 L174.0,1014.9 L176.0,1014.6 L178.0,1014.3 L180.0,1014.0 L181.9,1013.6 L183.9,1013.3 L185.9,1013.0 L187.8,1012.6 L189.8,1012.2 L191.8,1011.9 L193.7,1011.5 L195.7,1011.1 L197.7,1010.7 L199.6,1010.3 L201.6,1009.9 L203.5,1009.5 L205.5,1009.1 L207.4,1008.6 L209.4,1008.2 L211.3,1007.8 L213.3,1007.3 L215.2,1006.9 L217.2,1006.5 L219.1,1006.0 L221.1,1005.6 L223.0,1005.1 L225.0,1004.7 L226.9,1004.2 L228.9,1003.8 L230.8,1003.3 L232.8,1002.9 L234.7,1002.4 L236.6,1002.0 L238.6,1001.5 L240.5,1001.1 L242.5,1000.6 L244.4,1000.2 L246.4,999.8 L248.3,999.4 L250.3,998.9 L252.2,998.5 L254.2,998.1 L256.1,997.7 L258.1,997.3 L260.0,996.9 L262.0,996.6 L264.0,996.2 L265.9,995.8 L267.9,995.5 L269.9,995.1 L271.8,994.8 L273.8,994.4 L275.7,994.1 L277.7,993.8 L279.7,993.4 L281.7,993.1 L283.6,992.8 L285.6,992.5 L287.6,992.1 L289.5,991.8 L291.5,991.5 L293.5,991.2 L295.4,990.9 L297.4,990.6 L299.4,990.2 L301.4,989.9 L303.3,989.6 L305.3,989.3 L307.3,988.9 L309.2,988.6 L311.2,988.3 L313.2,987.9 L315.1,987.6 L317.1,987.2 L319.1,986.9 L321.0,986.5 L323.0,986.2 L325.0,985.8 L326.9,985.4 L328.9,985.1 L330.9,984.7 L332.8,984.3 L334.8,983.9 L336.7,983.6 L338.7,983.2 L340.7,982.8 L342.6,982.4 L344.6,982.0 L346.5,981.5 L348.5,981.1 L350.5,980.7 L352.4,980.3 L354.4,979.8 L356.3,979.4 L358.2,978.9 L360.2,978.5 L362.1,978.0 L364.1,977.5 L366.0,977.0 L367.9,976.5 L369.9,976.0 L371.8,975.5 L373.7,974.9 L375.6,974.4 L377.5,973.8 L379.4,973.2 L381.3,972.6 L383.2,972.0 L385.1,971.4 L387.0,970.7 L388.9,970.1 L390.7,969.4 L392.6,968.7 L394.5,968.0 L396.3,967.2 L398.2,966.5 L400.0,965.7 L401.8,965.0 L403.7,964.2 L405.5,963.4 L407.3,962.6 L409.1,961.8 L411.0,960.9 L412.8,960.1 L414.6,959.2 L416.4,958.4 L418.2,957.5 L420.0,956.6 L421.7,955.7 L423.5,954.8 L425.3,953.9 L427.1,953.0 L428.8,952.1 L430.6,951.1 L432.4,950.2 L434.1,949.2 L435.9,948.3 L437.6,947.3 L439.3,946.3 L441.1,945.3 L442.8,944.3 L444.5,943.3 L446.2,942.2 L447.9,941.2 L449.6,940.2 L451.3,939.1 L453.0,938.1 L454.7,937.0 L456.4,935.9 L458.1,934.8 L459.7,933.7 L461.4,932.6 L463.1,931.5 L464.7,930.4 L466.4,929.2 L468.0,928.1 L469.6,927.0 L471.3,925.8 L472.9,924.7 L474.5,923.5 L476.1,922.3 L477.7,921.1 L479.4,920.0 L481.0,918.8 L482.6,917.6 L484.2,916.4 L485.7,915.2 L487.3,914.0 L488.9,912.7 L490.5,911.5 L492.1,910.3 L493.7,909.1 L495.2,907.8 L496.8,906.6 L498.4,905.4 L499.9,904.1" fill="none" stroke="#1414e6" stroke-width="2.5" stroke-linejoin="round" stroke-linecap="round"/>
<path d="M84.1,951.7 L85.0,953.5 L85.9,955.3 L86.8,957.1 L87.8,958.9 L88.7,960.6 L89.7,962.4 L90.6,964.2 L91.6,965.9 L92.6,967.7 L93.6,969.4 L94.6,971.1 L95.7,972.8 L96.7,974.5 L97.8,976.2 L98.9,977.8 L100.0,979.5 L101.2,981.1 L102.4,982.7 L103.6,984.3 L104.8,985.9 L106.0,987.4 L107.3,988.9 L108.6,990.4 L109.9,991.9 L111.3,993.3 L112.6,994.8 L114.0,996.2 L115.4,997.6 L116.9,998.9 L118.4,1000.2 L119.9,1001.5 L121.4,1002.8 L122.9,1004.1 L124.5,1005.3 L126.1,1006.5 L127.7,1007.7 L129.3,1008.9 L130.9,1010.0 L132.6,1011.1 L134.2,1012.2 L135.9,1013.3 L137.6,1014.4 L139.3,1015.4 L141.0,1016.5 L142.7,1017.5 L144.4,1018.5 L146.2,1019.5 L147.9,1020.5 L149.7,1021.4 L151.5,1022.4 L153.2,1023.3 L155.0,1024.2 L156.8,1025.1 L158.6,1026.0 L160.4,1026.9 L162.2,1027.8 L164.0,1028.6 L165.8,1029.5 L167.7,1030.3 L169.5,1031.1 L171.3,1031.9 L173.2,1032.7 L175.0,1033.4 L176.9,1034.2 L178.7,1035.0 L180.6,1035.7 L182.4,1036.4 L184.3,1037.1 L186.2,1037.9 L188.0,1038.6 L189.9,1039.2 L191.8,1039.9 L193.7,1040.6 L195.6,1041.3 L197.5,1041.9 L199.3,1042.6 L201.2,1043.2 L203.1,1043.9 L205.0,1044.5 L206.9,1045.2 L208.8,1045.8 L210.7,1046.4 L212.6,1047.1 L214.5,1047.7 L216.4,1048.3 L218.3,1049.0 L220.2,1049.6 L222.1,1050.2 L224.0,1050.8 L225.9,1051.5 L227.8,1052.1 L229.7,1052.7 L231.6,1053.3 L233.5,1054.0 L235.4,1054.6 L237.3,1055.2 L239.2,1055.9 L241.1,1056.5 L243.0,1057.2 L244.9,1057.8 L246.7,1058.5 L248.6,1059.1 L250.5,1059.8 L252.4,1060.5 L254.3,1061.2 L256.2,1061.8 L258.0,1062.5 L259.9,1063.2 L261.8,1063.9 L263.6,1064.6 L265.5,1065.3 L267.4,1066.1 L269.2,1066.8 L271.1,1067.5 L272.9,1068.3 L274.8,1069.0 L276.7,1069.8 L278.5,1070.5 L280.3,1071.3 L282.2,1072.1 L284.0,1072.8 L285.9,1073.6 L287.7,1074.4 L289.5,1075.2 L291.4,1076.0 L293.2,1076.8 L295.0,1077.6 L296.9,1078.4 L298.7,1079.2 L300.5,1080.1 L302.3,1080.9 L304.2,1081.7 L306.0,1082.5 L307.8,1083.4 L309.6,1084.2 L311.4,1085.1 L313.2,1085.9 L315.0,1086.8 L316.8,1087.6 L318.7,1088.5 L320.5,1089.3 L322.3,1090.2 L324.1,1091.0 L325.9,1091.9 L327.7,1092.8 L329.5,1093.6 L331.3,1094.5 L333.1,1095.4 L334.9,1096.2 L336.7,1097.1 L338.5,1098.0 L340.3,1098.9 L342.0,1099.7 L343.8,1100.6 L345.6,1101.5 L347.4,1102.3 L349.2,1103.2 L351.0,1104.0 L352.8,1104.9 L354.6,1105.7 L356.5,1106.5 L358.3,1107.3 L360.1,1108.1 L361.9,1108.9 L363.8,1109.7 L365.6,1110.4 L367.5,1111.1 L369.3,1111.8 L371.2,1112.5 L373.1,1113.2 L375.0,1113.9 L376.8,1114.6 L378.7,1115.2 L380.6,1115.9 L382.5,1116.5 L384.4,1117.2 L386.3,1117.8 L388.2,1118.5 L390.1,1119.1 L392.0,1119.8 L393.9,1120.4 L395.7,1121.0 L397.6,1121.7 L399.5,1122.3 L401.4,1123.0 L403.3,1123.7 L405.2,1124.3 L407.1,1125.0 L408.9,1125.7 L410.8,1126.4 L412.7,1127.1 L414.5,1127.8 L416.4,1128.5 L418.3,1129.3 L420.1,1130.0 L421.9,1130.8 L423.8,1131.6 L425.6,1132.4 L427.4,1133.2 L429.2,1134.1 L431.0,1134.9 L432.8,1135.8 L434.6,1136.7 L436.4,1137.6 L438.1,1138.5 L439.9,1139.5 L441.6,1140.4 L443.4,1141.4 L445.1,1142.4 L446.9,1143.4 L448.6,1144.4 L450.3,1145.4 L452.0,1146.4 L453.7,1147.5 L455.4,1148.5 L457.1,1149.6 L458.8,1150.7 L460.4,1151.8 L462.1,1152.9 L463.8,1154.0 L465.4,1155.1 L467.1,1156.3 L468.7,1157.4 L470.3,1158.6 L472.0,1159.7 L473.6,1160.9 L475.2,1162.1 L476.8,1163.3 L478.4,1164.5 L480.0,1165.7 L481.6,1166.9 L483.2,1168.1 L484.8,1169.3 L486.4,1170.5 L487.9,1171.8 L489.5,1173.0 L491.1,1174.2 L492.7,1175.5 L494.3,1176.7 L495.8,1177.9 L497.4,1179.2" fill="none" stroke="#1414e6" stroke-width="2.5" stroke-linejoin="round" stroke-linecap="round"/>
<path d="M84.1,1068.9 L85.1,1067.2 L86.2,1065.5 L87.2,1063.8 L88.3,1062.0 L89.4,1060.3 L90.5,1058.6 L91.6,1057.0 L92.7,1055.3 L93.8,1053.6 L95.0,1052.0 L96.2,1050.4 L97.4,1048.8 L98.7,1047.3 L99.9,1045.7 L101.2,1044.2 L102.6,1042.8 L103.9,1041.3 L105.3,1039.9 L106.7,1038.5 L108.1,1037.2 L109.6,1035.9 L111.1,1034.6 L112.6,1033.4 L114.2,1032.2 L115.8,1031.1 L117.4,1030.0 L119.1,1028.9 L120.7,1027.9 L122.4,1026.9 L124.2,1026.0 L125.9,1025.1 L127.7,1024.3 L129.5,1023.5 L131.3,1022.7 L133.1,1022.0 L135.0,1021.4 L136.8,1020.8 L138.7,1020.2 L140.6,1019.6 L142.5,1019.1 L144.4,1018.7 L146.4,1018.2 L148.3,1017.8 L150.3,1017.4 L152.2,1017.0 L154.2,1016.7 L156.2,1016.4 L158.1,1016.0 L160.1,1015.7 L162.1,1015.4 L164.1,1015.1 L166.1,1014.8 L168.1,1014.5 L170.0,1014.2 L172.0,1013.9 L174.0,1013.6 L176.0,1013.3 L178.0,1012.9 L179.9,1012.6 L181.9,1012.2 L183.9,1011.9 L185.8,1011.5 L187.8,1011.1 L189.8,1010.7 L191.7,1010.3 L193.7,1009.9 L195.7,1009.5 L197.6,1009.1 L199.6,1008.7 L201.5,1008.3 L203.5,1007.9 L205.5,1007.5 L207.4,1007.0 L209.4,1006.6 L211.3,1006.2 L213.3,1005.7 L215.2,1005.3 L217.2,1004.8 L219.1,1004.4 L221.1,1003.9 L223.0,1003.5 L225.0,1003.0 L226.9,1002.6 L228.8,1002.1 L230.8,1001.7 L232.7,1001.2 L234.7,1000.8 L236.6,1000.3 L238.6,999.8 L240.5,999.4 L242.5,998.9 L244.4,998.5 L246.4,998.1 L248.3,997.6 L250.3,997.2 L252.2,996.8 L254.2,996.3 L256.1,995.9 L258.1,995.5 L260.0,995.1 L262.0,994.7 L263.9,994.3 L265.9,993.9 L267.8,993.6 L269.8,993.2 L271.8,992.8 L273.7,992.5 L275.7,992.1 L277.7,991.8 L279.6,991.4 L281.6,991.0 L283.6,990.7 L285.5,990.3 L287.5,990.0 L289.5,989.6 L291.4,989.3 L293.4,988.9 L295.3,988.6 L297.3,988.2 L299.3,987.9 L301.2,987.5 L303.2,987.1 L305.2,986.8 L307.1,986.4 L309.1,986.0 L311.1,985.6 L313.0,985.2 L315.0,984.8 L316.9,984.4 L318.9,984.0 L320.8,983.6 L322.8,983.2 L324.8,982.8 L326.7,982.3 L328.7,981.9 L330.6,981.5 L332.6,981.0 L334.5,980.6 L336.5,980.1 L338.4,979.7 L340.4,979.2 L342.3,978.8 L344.3,978.3 L346.2,977.8 L348.2,977.4 L350.1,976.9 L352.0,976.4 L354.0,975.9 L355.9,975.4 L357.8,974.9 L359.8,974.4 L361.7,973.8 L363.6,973.3 L365.5,972.7 L367.5,972.2 L369.4,971.6 L371.3,971.0 L373.2,970.4 L375.1,969.8 L377.0,969.1 L378.8,968.5 L380.7,967.8 L382.6,967.1 L384.4,966.4 L386.3,965.7 L388.1,965.0 L390.0,964.2 L391.8,963.5 L393.6,962.7 L395.4,961.8 L397.3,961.0 L399.1,960.2 L400.9,959.3 L402.6,958.4 L404.4,957.6 L406.2,956.7 L408.0,955.7 L409.8,954.8 L411.5,953.9 L413.3,953.0 L415.1,952.0 L416.8,951.1 L418.6,950.1 L420.3,949.1 L422.0,948.2 L423.8,947.2 L425.5,946.2 L427.2,945.2 L429.0,944.2 L430.7,943.1 L432.4,942.1 L434.1,941.1 L435.8,940.0 L437.5,939.0 L439.2,937.9 L440.9,936.8 L442.6,935.7 L444.2,934.7 L445.9,933.6 L447.6,932.5 L449.2,931.3 L450.9,930.2 L452.6,929.1 L454.2,928.0 L455.8,926.8 L457.5,925.7 L459.1,924.5 L460.7,923.3 L462.3,922.2 L464.0,921.0 L465.6,919.8 L467.2,918.6 L468.8,917.4 L470.4,916.2 L472.0,915.0 L473.6,913.8 L475.2,912.6 L476.8,911.4 L478.4,910.2 L479.9,909.0 L481.5,907.8 L483.1,906.6 L484.7,905.3 L486.3,904.1" fill="none" stroke="#d814d8" stroke-width="2.5" stroke-linejoin="round" stroke-linecap="round"/>
<path d="M84.1,951.7 L85.0,953.5 L85.9,955.3 L86.8,957.1 L87.8,958.9 L88.7,960.6 L89.7,962.4 L90.6,964.2 L91.6,965.9 L92.6,967.7 L93.6,969.4 L94.6,971.1 L95.7,972.8 L96.7,974.5 L97.8,976.2 L98.9,977.8 L100.0,979.5 L101.2,981.1 L102.4,982.7 L103.6,984.3 L104.8,985.9 L106.0,987.4 L107.3,988.9 L108.6,990.4 L109.9,991.9 L111.3,993.4 L112.6,994.8 L114.0,996.2 L115.5,997.6 L116.9,998.9 L118.4,1000.2 L119.9,1001.5 L121.4,1002.8 L122.9,1004.1 L124.5,1005.3 L126.1,1006.5 L127.7,1007.7 L129.3,1008.9 L130.9,1010.0 L132.6,1011.1 L134.2,1012.3 L135.9,1013.3 L137.6,1014.4 L139.3,1015.5 L141.0,1016.5 L142.7,1017.5 L144.5,1018.5 L146.2,1019.5 L148.0,1020.5 L149.7,1021.4 L151.5,1022.4 L153.3,1023.3 L155.0,1024.2 L156.8,1025.1 L158.6,1026.0 L160.4,1026.9 L162.2,1027.8 L164.0,1028.6 L165.9,1029.5 L167.7,1030.3 L169.5,1031.1 L171.4,1031.9 L173.2,1032.7 L175.0,1033.5 L176.9,1034.2 L178.7,1035.0 L180.6,1035.7 L182.5,1036.4 L184.3,1037.2 L186.2,1037.9 L188.1,1038.6 L190.0,1039.3 L191.8,1039.9 L193.7,1040.6 L195.6,1041.3 L197.5,1041.9 L199.4,1042.6 L201.3,1043.3 L203.2,1043.9 L205.1,1044.5 L207.0,1045.2 L208.9,1045.8 L210.7,1046.5 L212.6,1047.1 L214.5,1047.7 L216.4,1048.3 L218.3,1049.0 L220.2,1049.6 L222.1,1050.2 L224.0,1050.8 L225.9,1051.5 L227.8,1052.1 L229.7,1052.7 L231.6,1053.4 L233.5,1054.0 L235.4,1054.6 L237.3,1055.3 L239.2,1055.9 L241.1,1056.5 L243.0,1057.2 L244.9,1057.8 L246.8,1058.5 L248.7,1059.2 L250.6,1059.8 L252.4,1060.5 L254.3,1061.2 L256.2,1061.9 L258.1,1062.5 L260.0,1063.2 L261.8,1063.9 L263.7,1064.7 L265.6,1065.4 L267.4,1066.1 L269.3,1066.8 L271.1,1067.6 L273.0,1068.3 L274.8,1069.0 L276.7,1069.8 L278.5,1070.6 L280.4,1071.3 L282.2,1072.1 L284.1,1072.9 L285.9,1073.7 L287.8,1074.4 L289.6,1075.2 L291.4,1076.0 L293.3,1076.8 L295.1,1077.6 L296.9,1078.4 L298.7,1079.3 L300.6,1080.1 L302.4,1080.9 L304.2,1081.7 L306.0,1082.5 L307.9,1083.4 L309.7,1084.2 L311.5,1085.1 L313.3,1085.9 L315.1,1086.7 L316.9,1087.6 L318.7,1088.4 L320.5,1089.3 L322.3,1090.1 L324.1,1091.0 L326.0,1091.9 L327.8,1092.7 L329.6,1093.6 L331.4,1094.5 L333.2,1095.3 L335.0,1096.2 L336.8,1097.1 L338.6,1097.9 L340.3,1098.8 L342.1,1099.7 L343.9,1100.5 L345.7,1101.4 L347.5,1102.3 L349.3,1103.1 L351.1,1104.0 L352.9,1104.9 L354.7,1105.7 L356.6,1106.5 L358.4,1107.4 L360.2,1108.2 L362.0,1109.0 L363.9,1109.8 L365.7,1110.5 L367.5,1111.3 L369.4,1112.0 L371.2,1112.8 L373.1,1113.5 L374.9,1114.3 L376.8,1115.0 L378.7,1115.7 L380.5,1116.5 L382.4,1117.2 L384.2,1117.9 L386.1,1118.7 L387.9,1119.4 L389.8,1120.2 L391.6,1120.9 L393.5,1121.7 L395.3,1122.5 L397.2,1123.3 L399.0,1124.1 L400.8,1124.9 L402.6,1125.7 L404.4,1126.5 L406.3,1127.4 L408.1,1128.2 L409.8,1129.1 L411.6,1130.0 L413.4,1130.9 L415.2,1131.8 L416.9,1132.7 L418.7,1133.7 L420.4,1134.6 L422.2,1135.6 L423.9,1136.6 L425.6,1137.6 L427.3,1138.6 L429.0,1139.7 L430.7,1140.7 L432.4,1141.8 L434.0,1142.9 L435.7,1144.0 L437.3,1145.1 L439.0,1146.3 L440.6,1147.4 L442.3,1148.5 L443.9,1149.7 L445.5,1150.8 L447.2,1152.0 L448.8,1153.2 L450.4,1154.3 L452.0,1155.5 L453.6,1156.7 L455.3,1157.9 L456.9,1159.0 L458.5,1160.2 L460.1,1161.4 L461.8,1162.5 L463.4,1163.7 L465.0,1164.8 L466.7,1166.0 L468.3,1167.2 L469.9,1168.3 L471.6,1169.5 L473.2,1170.6 L474.8,1171.8 L476.5,1172.9 L478.1,1174.1 L479.8,1175.2 L481.4,1176.4 L483.0,1177.5 L484.7,1178.7 L486.3,1179.8" fill="none" stroke="#d814d8" stroke-width="2.5" stroke-linejoin="round" stroke-linecap="round"/>
<path d="M84.1,1068.9 L85.1,1067.2 L86.2,1065.5 L87.2,1063.8 L88.3,1062.1 L89.4,1060.4 L90.5,1058.7 L91.6,1057.0 L92.7,1055.3 L93.9,1053.7 L95.0,1052.1 L96.2,1050.5 L97.4,1048.9 L98.7,1047.3 L99.9,1045.8 L101.2,1044.3 L102.6,1042.8 L103.9,1041.4 L105.3,1040.0 L106.7,1038.6 L108.2,1037.3 L109.6,1036.0 L111.1,1034.7 L112.7,1033.5 L114.2,1032.3 L115.8,1031.2 L117.4,1030.1 L119.1,1029.0 L120.8,1028.0 L122.4,1027.0 L124.2,1026.0 L125.9,1025.1 L127.7,1024.3 L129.5,1023.4 L131.3,1022.7 L133.1,1021.9 L134.9,1021.2 L136.8,1020.5 L138.7,1019.9 L140.6,1019.3 L142.5,1018.7 L144.4,1018.1 L146.3,1017.6 L148.2,1017.1 L150.2,1016.6 L152.1,1016.1 L154.0,1015.6 L156.0,1015.2 L158.0,1014.8 L159.9,1014.3 L161.9,1013.9 L163.9,1013.5 L165.8,1013.1 L167.8,1012.7 L169.8,1012.3 L171.7,1011.9 L173.7,1011.5 L175.7,1011.1 L177.6,1010.7 L179.6,1010.2 L181.6,1009.8 L183.5,1009.4 L185.5,1009.0 L187.4,1008.5 L189.4,1008.1 L191.4,1007.7 L193.3,1007.3 L195.3,1006.8 L197.2,1006.4 L199.2,1006.0 L201.1,1005.5 L203.1,1005.1 L205.0,1004.6 L207.0,1004.2 L208.9,1003.7 L210.9,1003.3 L212.8,1002.9 L214.8,1002.4 L216.7,1002.0 L218.7,1001.5 L220.6,1001.0 L222.6,1000.6 L224.5,1000.1 L226.5,999.7 L228.4,999.2 L230.3,998.8 L232.3,998.3 L234.2,997.9 L236.2,997.4 L238.1,996.9 L240.1,996.5 L242.0,996.0 L244.0,995.5 L245.9,995.1 L247.8,994.6 L249.8,994.2 L251.7,993.7 L253.7,993.2 L255.6,992.8 L257.6,992.3 L259.5,991.8 L261.4,991.4 L263.4,990.9 L265.3,990.5 L267.3,990.0 L269.2,989.5 L271.2,989.1 L273.1,988.6 L275.0,988.1 L277.0,987.7 L278.9,987.2 L280.9,986.7 L282.8,986.3 L284.8,985.8 L286.7,985.3 L288.6,984.9 L290.6,984.4 L292.5,983.9 L294.5,983.5 L296.4,983.0 L298.4,982.5 L300.3,982.1 L302.2,981.6 L304.2,981.1 L306.1,980.6 L308.1,980.1 L310.0,979.7 L311.9,979.2 L313.9,978.7 L315.8,978.2 L317.8,977.7 L319.7,977.2 L321.6,976.7 L323.6,976.3 L325.5,975.8 L327.5,975.3 L329.4,974.8 L331.3,974.3 L333.3,973.8 L335.2,973.3 L337.2,972.7 L339.1,972.2 L341.0,971.7 L343.0,971.2 L344.9,970.7 L346.8,970.2 L348.8,969.6 L350.7,969.1 L352.6,968.6 L354.5,968.0 L356.5,967.5 L358.4,966.9 L360.3,966.3 L362.2,965.7 L364.1,965.1 L366.0,964.5 L367.9,963.9 L369.8,963.3 L371.7,962.6 L373.5,961.9 L375.4,961.3 L377.2,960.6 L379.1,959.8 L380.9,959.1 L382.8,958.3 L384.6,957.6 L386.4,956.7 L388.2,955.9 L390.0,955.1 L391.8,954.2 L393.5,953.3 L395.3,952.4 L397.1,951.5 L398.8,950.5 L400.6,949.6 L402.3,948.6 L404.0,947.6 L405.7,946.6 L407.5,945.6 L409.2,944.6 L410.9,943.6 L412.7,942.6 L414.4,941.6 L416.1,940.6 L417.8,939.6 L419.5,938.6 L421.2,937.6 L423.0,936.5 L424.7,935.5 L426.4,934.4 L428.0,933.4 L429.7,932.3 L431.4,931.2 L433.1,930.1 L434.7,929.0 L436.4,927.9 L438.0,926.8 L439.7,925.6 L441.3,924.5 L442.9,923.3 L444.5,922.1 L446.1,920.9 L447.6,919.7 L449.2,918.4 L450.7,917.2 L452.3,915.9 L453.8,914.7 L455.3,913.4 L456.9,912.1 L458.4,910.8 L459.9,909.5 L461.4,908.1 L462.9,906.8 L464.4,905.5 L465.9,904.2" fill="none" stroke="#1a0c6c" stroke-width="2.5" stroke-linejoin="round" stroke-linecap="round"/>
<path d="M84.1,951.7 L85.0,953.5 L85.9,955.3 L86.8,957.1 L87.8,958.9 L88.7,960.6 L89.7,962.4 L90.6,964.2 L91.6,965.9 L92.6,967.7 L93.6,969.4 L94.6,971.1 L95.7,972.8 L96.7,974.5 L97.8,976.2 L98.9,977.8 L100.1,979.5 L101.2,981.1 L102.4,982.7 L103.6,984.3 L104.8,985.9 L106.0,987.4 L107.3,988.9 L108.6,990.4 L109.9,991.9 L111.3,993.4 L112.6,994.8 L114.0,996.2 L115.5,997.6 L116.9,998.9 L118.4,1000.3 L119.9,1001.6 L121.4,1002.8 L123.0,1004.1 L124.5,1005.3 L126.1,1006.5 L127.7,1007.7 L129.3,1008.9 L130.9,1010.0 L132.6,1011.2 L134.3,1012.3 L135.9,1013.4 L137.6,1014.4 L139.3,1015.5 L141.0,1016.5 L142.8,1017.5 L144.5,1018.5 L146.2,1019.5 L148.0,1020.5 L149.7,1021.5 L151.5,1022.4 L153.3,1023.3 L155.1,1024.3 L156.9,1025.2 L158.7,1026.1 L160.5,1026.9 L162.3,1027.8 L164.1,1028.6 L165.9,1029.5 L167.7,1030.3 L169.6,1031.1 L171.4,1031.9 L173.2,1032.7 L175.1,1033.5 L176.9,1034.2 L178.8,1035.0 L180.6,1035.7 L182.5,1036.5 L184.4,1037.2 L186.2,1037.9 L188.1,1038.6 L190.0,1039.3 L191.9,1040.0 L193.8,1040.6 L195.7,1041.3 L197.5,1042.0 L199.4,1042.6 L201.3,1043.3 L203.2,1043.9 L205.1,1044.6 L207.0,1045.2 L208.9,1045.8 L210.8,1046.5 L212.7,1047.1 L214.6,1047.7 L216.5,1048.4 L218.4,1049.0 L220.3,1049.6 L222.2,1050.2 L224.1,1050.9 L226.0,1051.5 L227.9,1052.1 L229.8,1052.8 L231.7,1053.4 L233.6,1054.0 L235.5,1054.7 L237.4,1055.3 L239.3,1055.9 L241.2,1056.6 L243.1,1057.2 L245.0,1057.9 L246.9,1058.5 L248.7,1059.2 L250.6,1059.9 L252.5,1060.5 L254.4,1061.2 L256.3,1061.9 L258.1,1062.6 L260.0,1063.3 L261.9,1064.0 L263.8,1064.7 L265.6,1065.4 L267.5,1066.1 L269.4,1066.9 L271.2,1067.6 L273.1,1068.3 L274.9,1069.1 L276.8,1069.8 L278.6,1070.6 L280.5,1071.4 L282.3,1072.1 L284.2,1072.9 L286.0,1073.7 L287.8,1074.5 L289.7,1075.3 L291.5,1076.1 L293.3,1076.9 L295.2,1077.7 L297.0,1078.5 L298.8,1079.3 L300.7,1080.1 L302.5,1080.9 L304.3,1081.7 L306.1,1082.5 L308.0,1083.4 L309.8,1084.2 L311.6,1085.0 L313.4,1085.9 L315.2,1086.7 L317.0,1087.5 L318.9,1088.4 L320.7,1089.2 L322.5,1090.1 L324.3,1090.9 L326.1,1091.8 L327.9,1092.7 L329.7,1093.5 L331.5,1094.4 L333.3,1095.2 L335.1,1096.1 L336.9,1097.0 L338.7,1097.9 L340.5,1098.7 L342.3,1099.6 L344.1,1100.5 L345.9,1101.4 L347.7,1102.2 L349.5,1103.1 L351.3,1104.0 L353.1,1104.9 L354.9,1105.7 L356.7,1106.6 L358.5,1107.4 L360.3,1108.3 L362.1,1109.1 L363.9,1110.0 L365.7,1110.8 L367.6,1111.6 L369.4,1112.5 L371.2,1113.3 L373.0,1114.1 L374.8,1115.0 L376.6,1115.8 L378.4,1116.6 L380.2,1117.5 L382.0,1118.3 L383.8,1119.2 L385.6,1120.1 L387.4,1121.0 L389.2,1121.9 L390.9,1122.8 L392.7,1123.8 L394.4,1124.7 L396.2,1125.7 L397.9,1126.7 L399.6,1127.7 L401.3,1128.8 L403.0,1129.8 L404.7,1130.8 L406.4,1131.9 L408.1,1133.0 L409.7,1134.1 L411.4,1135.2 L413.1,1136.3 L414.7,1137.4 L416.3,1138.6 L418.0,1139.7 L419.6,1140.9 L421.2,1142.1 L422.8,1143.3 L424.4,1144.5 L426.0,1145.7 L427.6,1146.9 L429.2,1148.1 L430.7,1149.3 L432.3,1150.6 L433.9,1151.8 L435.4,1153.1 L437.0,1154.3 L438.5,1155.6 L440.1,1156.9 L441.6,1158.1 L443.2,1159.4 L444.7,1160.7 L446.2,1162.0 L447.7,1163.3 L449.3,1164.6 L450.8,1165.9 L452.3,1167.2 L453.8,1168.5 L455.3,1169.9 L456.8,1171.2 L458.3,1172.5 L459.8,1173.8 L461.4,1175.2 L462.9,1176.5 L464.4,1177.8 L465.9,1179.1" fill="none" stroke="#1a0c6c" stroke-width="2.5" stroke-linejoin="round" stroke-linecap="round"/>
<path d="M81.9,872.8 H536.4 V1210.1 H81.9 Z" fill="none" stroke="#1e1e1e" stroke-width="1.5"/>
<path d="M81.9,1179.7 h6.3 M81.9,1149.0 h3.6 M81.9,1118.2 h6.3 M81.9,1087.5 h3.6 M81.9,1056.7 h6.3 M81.9,1026.0 h3.6 M81.9,995.3 h6.3 M81.9,964.5 h3.6 M81.9,933.8 h6.3 M81.9,903.0 h3.6 M81.9,872.3 h6.3 M107.2,1210.1 v-3.6 M132.4,1210.1 v-6.3 M157.7,1210.1 v-3.6 M182.9,1210.1 v-6.3 M208.2,1210.1 v-3.6 M233.5,1210.1 v-6.3 M258.7,1210.1 v-3.6 M284.0,1210.1 v-6.3 M309.2,1210.1 v-3.6 M334.5,1210.1 v-6.3 M359.8,1210.1 v-3.6 M385.0,1210.1 v-6.3 M410.3,1210.1 v-3.6 M435.5,1210.1 v-6.3 M460.8,1210.1 v-3.6 M486.1,1210.1 v-6.3 M511.3,1210.1 v-3.6" stroke="#1e1e1e" stroke-width="1.3"/>
<g font-family='"Liberation Sans", sans-serif' font-size="17.5" fill="#141414"><text x="74.4" y="1185.9" text-anchor="end">1.0</text><text x="74.4" y="1124.4" text-anchor="end">1.2</text><text x="74.4" y="1062.9" text-anchor="end">1.4</text><text x="74.4" y="1001.5" text-anchor="end">1.6</text><text x="74.4" y="940.0" text-anchor="end">1.8</text><text x="74.4" y="878.5" text-anchor="end">2.0</text><text x="81.9" y="1232.1" text-anchor="middle">0</text><text x="132.4" y="1232.1" text-anchor="middle">20</text><text x="182.9" y="1232.1" text-anchor="middle">40</text><text x="233.5" y="1232.1" text-anchor="middle">60</text><text x="284.0" y="1232.1" text-anchor="middle">80</text><text x="334.5" y="1232.1" text-anchor="middle">100</text><text x="385.0" y="1232.1" text-anchor="middle">120</text><text x="435.5" y="1232.1" text-anchor="middle">140</text><text x="486.1" y="1232.1" text-anchor="middle">160</text><text x="536.6" y="1232.1" text-anchor="middle">180</text></g>
<text x="107.3" y="902.7" textLength="151" lengthAdjust="spacingAndGlyphs" font-family='"Liberation Serif", serif' font-size="18.9" fill="#141414">ZnAB+12 wt.% AC</text>
<g font-family='"Liberation Serif", serif' font-size="18" fill="#141414"><text x="466.5" y="898" text-anchor="middle">d</text><text x="487.7" y="898" text-anchor="middle">c</text><text x="502.4" y="898" text-anchor="middle">b</text><text x="516.1" y="898" text-anchor="middle">a</text><text x="465.8" y="1196" text-anchor="middle">d</text><text x="486.3" y="1196" text-anchor="middle">c</text><text x="500.7" y="1196" text-anchor="middle">b</text><text x="514.4" y="1196" text-anchor="middle">a</text><text x="449.6" y="1020.5" text-anchor="middle">a</text><text x="480" y="1020.5" letter-spacing="0.35">1st</text><text x="449.6" y="1043.0" text-anchor="middle">b</text><text x="480" y="1043.0" letter-spacing="0.35">10th</text><text x="449.6" y="1066.0" text-anchor="middle">c</text><text x="480" y="1066.0" letter-spacing="0.35">30th</text><text x="449.6" y="1088.5" text-anchor="middle">d</text><text x="480" y="1088.5" letter-spacing="0.35">60th</text></g>
<text x="198" y="1273.7" font-family='"Liberation Sans", sans-serif' font-size="18.8" fill="#141414">Specific capacity (mAhg<tspan dy="-7.5" font-size="14.5">-1</tspan><tspan dy="7.5" dx="1.5">)</tspan></text>
<text transform="translate(27.5,1075) rotate(-90)" font-family='"Liberation Sans", sans-serif' font-size="20" fill="#141414">Voltage (V)</text>
<text x="19" y="875.7" font-family='"Liberation Serif", serif' font-weight="bold" font-size="22" fill="#141414">(c)</text>
</svg></body></html>
